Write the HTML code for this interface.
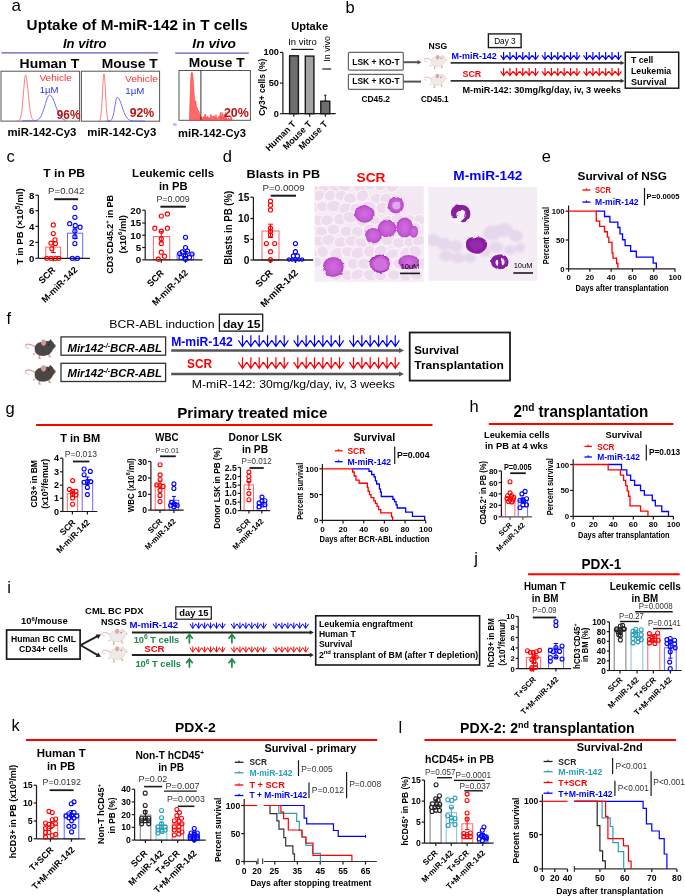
<!DOCTYPE html>
<html><head><meta charset="utf-8"><style>
html,body{margin:0;padding:0;background:#fff;}
body{width:685px;height:896px;overflow:hidden;}
svg{display:block;will-change:transform;font-family:"Liberation Sans",sans-serif;}
</style></head><body>
<svg width="685" height="896" viewBox="0 0 685 896">
<text x="11.50" y="10.50" font-size="17" >a</text>
<text x="26.60" y="30.30" font-size="14.2" font-weight="bold" textLength="221.30" lengthAdjust="spacingAndGlyphs" >Uptake of M-miR-142 in T cells</text>
<text x="63.00" y="47.60" font-size="13.2" font-weight="bold" font-style="italic" textLength="43.50" lengthAdjust="spacingAndGlyphs" >In vitro</text>
<text x="192.30" y="47.60" font-size="13.2" font-weight="bold" font-style="italic" textLength="43.70" lengthAdjust="spacingAndGlyphs" >In vivo</text>
<line x1="1.40" y1="52.80" x2="158.00" y2="52.80" stroke="#5a5ab4" stroke-width="1.3"/>
<line x1="175.20" y1="53.20" x2="248.80" y2="53.20" stroke="#5a5ab4" stroke-width="1.3"/>
<text x="19.60" y="68.30" font-size="13" font-weight="bold" textLength="59.60" lengthAdjust="spacingAndGlyphs" >Human T</text>
<text x="101.70" y="67.70" font-size="13" font-weight="bold" textLength="56.10" lengthAdjust="spacingAndGlyphs" >Mouse T</text>
<text x="188.80" y="67.10" font-size="13" font-weight="bold" textLength="55.80" lengthAdjust="spacingAndGlyphs" >Mouse T</text>
<rect x="1.00" y="71.20" width="78.60" height="49.90" stroke="#555" stroke-width="1" fill="none" />
<rect x="81.40" y="71.20" width="78.20" height="50.00" stroke="#555" stroke-width="1" fill="none" />
<rect x="179.00" y="70.50" width="71.40" height="49.80" stroke="#555" stroke-width="1" fill="none" />
<path d="M17.00,120.78 L17.32,120.77 L17.63,120.75 L17.95,120.71 L18.27,120.66 L18.58,120.57 L18.90,120.43 L19.22,120.22 L19.53,119.92 L19.85,119.48 L20.17,118.87 L20.48,118.04 L20.80,116.94 L21.12,115.51 L21.43,113.71 L21.75,111.49 L22.07,108.84 L22.38,105.75 L22.70,102.28 L23.02,98.50 L23.33,94.51 L23.65,90.46 L23.97,86.54 L24.28,82.93 L24.60,79.83 L24.92,77.43 L25.23,75.85 L25.55,75.21 L25.87,75.43 L26.18,76.30 L26.50,77.77 L26.82,79.79 L27.13,82.28 L27.45,85.13 L27.77,88.24 L28.08,91.50 L28.40,94.82 L28.72,98.08 L29.03,101.23 L29.35,104.17 L29.67,106.88 L29.98,109.31 L30.30,111.45 L30.62,113.30 L30.93,114.87 L31.25,116.18 L31.57,117.25 L31.88,118.12 L32.20,118.80 L32.52,119.33 L32.83,119.73 L33.15,120.04 L33.47,120.26 L33.78,120.43 L34.10,120.54 L34.42,120.63 L34.73,120.69 L35.05,120.72 L35.37,120.75 L35.68,120.77 L36.00,120.78" stroke="#ff5a5a" stroke-width="0.8" fill="none" />
<path d="M22.00,120.80 L22.73,120.80 L23.47,120.80 L24.20,120.80 L24.93,120.80 L25.67,120.80 L26.40,120.80 L27.13,120.80 L27.87,120.80 L28.60,120.80 L29.33,120.80 L30.07,120.80 L30.80,120.79 L31.53,120.79 L32.27,120.77 L33.00,120.76 L33.73,120.72 L34.47,120.67 L35.20,120.59 L35.93,120.46 L36.67,120.27 L37.40,119.98 L38.13,119.58 L38.87,119.03 L39.60,118.29 L40.33,117.32 L41.07,116.09 L41.80,114.59 L42.53,112.81 L43.27,110.77 L44.00,108.51 L44.73,106.11 L45.47,103.66 L46.20,101.29 L46.93,99.14 L47.67,97.32 L48.40,95.98 L49.13,95.19 L49.87,95.01 L50.60,95.32 L51.33,96.03 L52.07,97.12 L52.80,98.52 L53.53,100.19 L54.27,102.04 L55.00,104.00 L55.73,106.01 L56.47,107.98 L57.20,109.88 L57.93,111.64 L58.67,113.25 L59.40,114.67 L60.13,115.91 L60.87,116.96 L61.60,117.84 L62.33,118.55 L63.07,119.12 L63.80,119.56 L64.53,119.91 L65.27,120.16 L66.00,120.36" stroke="#4a4aff" stroke-width="0.8" fill="none" />
<text x="39.40" y="80.60" font-size="9.2" fill="#ff3030" textLength="32.60" lengthAdjust="spacingAndGlyphs" >Vehicle</text>
<text x="39.70" y="93.10" font-size="9.2" fill="#3030ff" textLength="18.80" lengthAdjust="spacingAndGlyphs" >1µM</text>
<text x="56.80" y="118.70" font-size="12" font-weight="bold" fill="#b81414" textLength="23.60" lengthAdjust="spacingAndGlyphs" >96%</text>
<path d="M98.50,120.94 L98.69,120.91 L98.88,120.86 L99.08,120.78 L99.27,120.68 L99.46,120.52 L99.65,120.30 L99.84,119.99 L100.03,119.57 L100.22,119.01 L100.42,118.28 L100.61,117.34 L100.80,116.15 L100.99,114.68 L101.18,112.90 L101.38,110.79 L101.57,108.34 L101.76,105.55 L101.95,102.45 L102.14,99.09 L102.33,95.54 L102.53,91.89 L102.72,88.27 L102.91,84.78 L103.10,81.58 L103.29,78.78 L103.48,76.52 L103.67,74.89 L103.87,73.99 L104.06,73.84 L104.25,74.45 L104.44,75.80 L104.63,77.83 L104.83,80.43 L105.02,83.49 L105.21,86.88 L105.40,90.47 L105.59,94.12 L105.78,97.72 L105.97,101.16 L106.17,104.37 L106.36,107.29 L106.55,109.87 L106.74,112.12 L106.93,114.03 L107.12,115.61 L107.32,116.90 L107.51,117.94 L107.70,118.75 L107.89,119.37 L108.08,119.84 L108.28,120.19 L108.47,120.44 L108.66,120.62 L108.85,120.75 L109.04,120.83 L109.23,120.89 L109.42,120.93 L109.62,120.96 L109.81,120.97 L110.00,120.98" stroke="#ff5a5a" stroke-width="0.8" fill="none" />
<path d="M106.00,121.00 L106.65,121.00 L107.30,121.00 L107.95,120.99 L108.60,120.97 L109.25,120.93 L109.90,120.82 L110.55,120.58 L111.20,120.11 L111.85,119.26 L112.50,117.85 L113.15,115.70 L113.80,112.75 L114.45,109.12 L115.10,105.16 L115.75,101.44 L116.40,98.65 L117.05,97.35 L117.70,97.43 L118.35,97.95 L119.00,98.87 L119.65,100.13 L120.30,101.66 L120.95,103.40 L121.60,105.27 L122.25,107.19 L122.90,109.09 L123.55,110.91 L124.20,112.60 L124.85,114.13 L125.50,115.49 L126.15,116.65 L126.80,117.63 L127.45,118.44 L128.10,119.08 L128.75,119.59 L129.40,119.99 L130.05,120.28 L130.70,120.50 L131.35,120.66 L132.00,120.77 L132.65,120.85 L133.30,120.90 L133.95,120.94 L134.60,120.96 L135.25,120.98 L135.90,120.99 L136.55,120.99 L137.20,121.00 L137.85,121.00 L138.50,121.00 L139.15,121.00 L139.80,121.00 L140.45,121.00 L141.10,121.00 L141.75,121.00 L142.40,121.00 L143.05,121.00 L143.70,121.00 L144.35,121.00 L145.00,121.00" stroke="#4a4aff" stroke-width="0.8" fill="none" />
<text x="124.90" y="82.30" font-size="9.2" fill="#ff3030" textLength="33.10" lengthAdjust="spacingAndGlyphs" >Vehicle</text>
<text x="125.30" y="94.40" font-size="9.2" fill="#3030ff" textLength="19.10" lengthAdjust="spacingAndGlyphs" >1µM</text>
<text x="129.70" y="116.80" font-size="12" font-weight="bold" fill="#b81414" textLength="24.50" lengthAdjust="spacingAndGlyphs" >92%</text>
<path d="M189.40,120.20 L190.00,100.00 L190.60,82.00 L191.20,73.00 L191.80,72.30 L192.40,72.80 L193.00,77.00 L193.50,84.00 L194.00,92.00 L194.50,98.00 L195.20,102.00 L195.80,101.00 L196.40,106.00 L197.20,108.00 L198.00,111.00 L198.80,110.50 L199.50,113.50 L200.40,115.50 L200.90,118.00 L201.00,117.52 L201.75,117.28 L202.50,119.44 L203.25,116.35 L204.00,118.76 L204.75,114.32 L205.50,114.29 L206.25,119.10 L207.00,116.23 L207.75,116.73 L208.50,119.44 L209.25,117.34 L210.00,119.58 L210.75,114.31 L211.50,116.18 L212.25,116.02 L213.00,116.50 L213.75,115.96 L214.50,115.81 L215.25,118.83 L216.00,114.46 L216.75,118.50 L217.50,118.16 L218.25,117.36 L219.00,116.08 L219.75,115.98 L220.50,112.24 L221.25,119.05 L222.00,112.34 L222.75,113.92 L223.50,118.86 L224.25,113.91 L225.00,119.45 L225.75,112.24 L226.50,118.35 L227.25,119.65 L228.00,118.41 L228.75,118.11 L229.50,119.86 L230.25,119.29 L231.00,116.24 L231.75,117.95 L232.00,120.20 Z" fill="#ff6a6a" stroke="#ff2a2a" stroke-width="0.5"/>
<line x1="200.90" y1="70.50" x2="200.90" y2="120.30" stroke="#333" stroke-width="1.0"/>
<text x="223.90" y="117.00" font-size="12" font-weight="bold" fill="#b81414" textLength="24.90" lengthAdjust="spacingAndGlyphs" >20%</text>
<text x="173.30" y="125.50" font-size="4" fill="#5050ff" >M</text>
<text x="7.40" y="136.10" font-size="10.4" font-weight="bold" textLength="69.00" lengthAdjust="spacingAndGlyphs" >miR-142-Cy3</text>
<text x="87.30" y="136.10" font-size="10.4" font-weight="bold" textLength="69.00" lengthAdjust="spacingAndGlyphs" >miR-142-Cy3</text>
<text x="178.10" y="136.70" font-size="10.4" font-weight="bold" textLength="67.90" lengthAdjust="spacingAndGlyphs" >miR-142-Cy3</text>
<text x="291.20" y="30.40" font-size="10" font-weight="bold" textLength="36.90" lengthAdjust="spacingAndGlyphs" >Uptake</text>
<text x="288.20" y="45.20" font-size="8.2" textLength="28.60" lengthAdjust="spacingAndGlyphs" >In vitro</text>
<line x1="291.20" y1="49.40" x2="313.50" y2="49.40" stroke="#1a1a1a" stroke-width="1.2"/>
<text transform="translate(330.20,48.90) rotate(-90)" font-size="8.2" text-anchor="middle" textLength="25.60" lengthAdjust="spacingAndGlyphs">In vivo</text>
<line x1="322.30" y1="69.00" x2="331.20" y2="69.00" stroke="#1a1a1a" stroke-width="1.2"/>
<rect x="289.60" y="55.80" width="8.80" height="57.90" stroke="#1a1a1a" stroke-width="1.4" fill="#6e6e6e" />
<rect x="305.30" y="56.10" width="8.60" height="57.60" stroke="#1a1a1a" stroke-width="1.4" fill="#a4a4a4" />
<rect x="320.80" y="101.20" width="9.00" height="12.50" stroke="#1a1a1a" stroke-width="1.4" fill="#6e6e6e" />
<line x1="325.30" y1="95.20" x2="325.30" y2="101.20" stroke="#1a1a1a" stroke-width="1"/>
<line x1="324.10" y1="95.20" x2="326.50" y2="95.20" stroke="#1a1a1a" stroke-width="1"/>
<line x1="324.10" y1="101.20" x2="326.50" y2="101.20" stroke="#1a1a1a" stroke-width="1"/>
<line x1="293.80" y1="55.20" x2="293.80" y2="55.80" stroke="#1a1a1a" stroke-width="1"/>
<line x1="282.90" y1="52.40" x2="282.90" y2="113.70" stroke="#1a1a1a" stroke-width="1.2"/>
<line x1="279.90" y1="52.40" x2="282.90" y2="52.40" stroke="#1a1a1a" stroke-width="1.2"/>
<text x="278.90" y="55.40" font-size="9.2" font-weight="bold" text-anchor="end" >100</text>
<line x1="279.90" y1="83.10" x2="282.90" y2="83.10" stroke="#1a1a1a" stroke-width="1.2"/>
<text x="278.90" y="86.10" font-size="9.2" font-weight="bold" text-anchor="end" >50</text>
<line x1="279.90" y1="113.70" x2="282.90" y2="113.70" stroke="#1a1a1a" stroke-width="1.2"/>
<text x="278.90" y="116.70" font-size="9.2" font-weight="bold" text-anchor="end" >0</text>
<line x1="282.90" y1="113.70" x2="335.70" y2="113.70" stroke="#1a1a1a" stroke-width="1.2"/>
<line x1="293.80" y1="113.70" x2="293.80" y2="116.70" stroke="#1a1a1a" stroke-width="1.2"/>
<line x1="309.70" y1="113.70" x2="309.70" y2="116.70" stroke="#1a1a1a" stroke-width="1.2"/>
<line x1="325.30" y1="113.70" x2="325.30" y2="116.70" stroke="#1a1a1a" stroke-width="1.2"/>
<text transform="translate(264.70,87.20) rotate(-90)" font-size="9.2" font-weight="bold" text-anchor="middle" textLength="57.30" lengthAdjust="spacingAndGlyphs">Cy3+ cells (%)</text>
<text transform="translate(296.50,124.50) rotate(-45)" font-size="9.0" font-weight="bold" text-anchor="end">Human T</text>
<text transform="translate(312.30,124.50) rotate(-45)" font-size="9.0" font-weight="bold" text-anchor="end">Mouse T</text>
<text transform="translate(328.10,124.50) rotate(-45)" font-size="9.0" font-weight="bold" text-anchor="end">Mouse T</text>
<text x="345.40" y="12.60" font-size="16.5" >b</text>
<rect x="348.40" y="52.40" width="54.90" height="17.70" stroke="#666" stroke-width="1.2" fill="none" rx="1"/>
<rect x="348.40" y="74.30" width="54.90" height="15.10" stroke="#666" stroke-width="1.2" fill="none" rx="1"/>
<text x="352.30" y="65.20" font-size="8.6" font-weight="bold" textLength="47.30" lengthAdjust="spacingAndGlyphs" >LSK + KO-T</text>
<text x="352.30" y="84.40" font-size="8.6" font-weight="bold" textLength="47.30" lengthAdjust="spacingAndGlyphs" >LSK + KO-T</text>
<line x1="403.40" y1="62.20" x2="418.00" y2="62.20" stroke="#555" stroke-width="2.0"/>
<path d="M417.50,60.00 L421.50,62.20 L417.50,64.40 Z" fill="#555"/>
<line x1="403.40" y1="81.60" x2="421.00" y2="81.60" stroke="#555" stroke-width="2.0"/>
<g transform="translate(424.00,54.60) scale(0.73)"><path d="M0.3,6.6 C2,4 6,5.2 10.6,8" stroke="#e4a4a0" stroke-width="1.1" fill="none"/><path d="M0.3,6.6 C0.4,8.2 1.8,9.2 3.8,9.6" stroke="#e4a4a0" stroke-width="0.9" fill="none"/><path d="M14.6,15.6 L14.3,19.2 M23.8,14.6 L24.6,17.6 M9.6,14.4 L8.4,15.6" stroke="#e4a4a0" stroke-width="1.5" fill="none"/><path d="M13.4,19.4 L16,19.4 M23.6,17.8 L26.2,17.8" stroke="#e4a4a0" stroke-width="1.0" fill="none"/><path d="M10,9.5 C10,5 14,3 18.5,3.2 C21,2.2 24,2 26.5,3.2 C28.5,4.2 30.2,5.5 30.5,6.8 C30.2,8 28.8,9 27.6,10.6 C26.5,13.5 24.5,15.5 20.5,16.3 C16.5,17 11.5,16 10.3,12.5 Z" fill="#eeeae8" stroke="#d4c4bf" stroke-width="0.6"/><ellipse cx="18.6" cy="3.6" rx="2.5" ry="3.1" fill="#e4a4a0"/><path d="M23.8,4.2 L25.2,0.4 L28.2,3.6 Z" fill="#eeeae8" stroke="#d4c4bf" stroke-width="0.5"/><circle cx="23.4" cy="5.4" r="0.75" fill="#b03040"/><circle cx="30.3" cy="6.9" r="0.6" fill="#e4a4a0"/></g>
<g transform="translate(423.80,73.30) scale(0.73)"><path d="M0.3,6.6 C2,4 6,5.2 10.6,8" stroke="#e4a4a0" stroke-width="1.1" fill="none"/><path d="M0.3,6.6 C0.4,8.2 1.8,9.2 3.8,9.6" stroke="#e4a4a0" stroke-width="0.9" fill="none"/><path d="M14.6,15.6 L14.3,19.2 M23.8,14.6 L24.6,17.6 M9.6,14.4 L8.4,15.6" stroke="#e4a4a0" stroke-width="1.5" fill="none"/><path d="M13.4,19.4 L16,19.4 M23.6,17.8 L26.2,17.8" stroke="#e4a4a0" stroke-width="1.0" fill="none"/><path d="M10,9.5 C10,5 14,3 18.5,3.2 C21,2.2 24,2 26.5,3.2 C28.5,4.2 30.2,5.5 30.5,6.8 C30.2,8 28.8,9 27.6,10.6 C26.5,13.5 24.5,15.5 20.5,16.3 C16.5,17 11.5,16 10.3,12.5 Z" fill="#eeeae8" stroke="#d4c4bf" stroke-width="0.6"/><ellipse cx="18.6" cy="3.6" rx="2.5" ry="3.1" fill="#e4a4a0"/><path d="M23.8,4.2 L25.2,0.4 L28.2,3.6 Z" fill="#eeeae8" stroke="#d4c4bf" stroke-width="0.5"/><circle cx="23.4" cy="5.4" r="0.75" fill="#b03040"/><circle cx="30.3" cy="6.9" r="0.6" fill="#e4a4a0"/></g>
<text x="428.50" y="49.00" font-size="9" font-weight="bold" textLength="18.70" lengthAdjust="spacingAndGlyphs" >NSG</text>
<text x="361.40" y="101.60" font-size="8.8" font-weight="bold" textLength="28.50" lengthAdjust="spacingAndGlyphs" >CD45.2</text>
<text x="420.90" y="101.60" font-size="8.8" font-weight="bold" textLength="27.70" lengthAdjust="spacingAndGlyphs" >CD45.1</text>
<rect x="488.40" y="33.90" width="32.70" height="13.70" stroke="#1a1a1a" stroke-width="1.4" fill="none" />
<text x="494.20" y="43.50" font-size="9" textLength="21.40" lengthAdjust="spacingAndGlyphs" >Day 3</text>
<text x="451.60" y="59.40" font-size="9.4" font-weight="bold" fill="#0000ff" textLength="45.20" lengthAdjust="spacingAndGlyphs" >M-miR-142</text>
<text x="462.50" y="76.80" font-size="9.4" font-weight="bold" fill="#ff0000" textLength="18.80" lengthAdjust="spacingAndGlyphs" >SCR</text>
<line x1="450.60" y1="62.90" x2="621.00" y2="62.90" stroke="#333" stroke-width="1.9"/>
<path d="M620.50,60.70 L624.50,62.90 L620.50,65.10 Z" fill="#333"/>
<line x1="450.60" y1="80.90" x2="621.00" y2="80.90" stroke="#333" stroke-width="1.9"/>
<path d="M620.50,78.70 L624.50,80.90 L620.50,83.10 Z" fill="#333"/>
<path d="M503.60,52.00 L503.60,59.60 M500.60,55.40 L503.60,59.60 L506.60,55.40 M509.98,52.00 L509.98,59.60 M506.98,55.40 L509.98,59.60 L512.98,55.40 M516.36,52.00 L516.36,59.60 M513.36,55.40 L516.36,59.60 L519.36,55.40 M522.74,52.00 L522.74,59.60 M519.74,55.40 L522.74,59.60 L525.74,55.40 M529.12,52.00 L529.12,59.60 M526.12,55.40 L529.12,59.60 L532.12,55.40 M535.50,52.00 L535.50,59.60 M532.50,55.40 L535.50,59.60 L538.50,55.40 " stroke="#0000ff" stroke-width="1.15" fill="none" stroke-linejoin="miter"/>
<path d="M503.60,67.90 L503.60,75.60 M500.60,71.40 L503.60,75.60 L506.60,71.40 M509.98,67.90 L509.98,75.60 M506.98,71.40 L509.98,75.60 L512.98,71.40 M516.36,67.90 L516.36,75.60 M513.36,71.40 L516.36,75.60 L519.36,71.40 M522.74,67.90 L522.74,75.60 M519.74,71.40 L522.74,75.60 L525.74,71.40 M529.12,67.90 L529.12,75.60 M526.12,71.40 L529.12,75.60 L532.12,71.40 M535.50,67.90 L535.50,75.60 M532.50,71.40 L535.50,75.60 L538.50,71.40 " stroke="#ff0000" stroke-width="1.15" fill="none" stroke-linejoin="miter"/>
<path d="M545.00,52.00 L545.00,59.60 M542.00,55.40 L545.00,59.60 L548.00,55.40 M551.38,52.00 L551.38,59.60 M548.38,55.40 L551.38,59.60 L554.38,55.40 M557.76,52.00 L557.76,59.60 M554.76,55.40 L557.76,59.60 L560.76,55.40 M564.14,52.00 L564.14,59.60 M561.14,55.40 L564.14,59.60 L567.14,55.40 M570.52,52.00 L570.52,59.60 M567.52,55.40 L570.52,59.60 L573.52,55.40 M576.90,52.00 L576.90,59.60 M573.90,55.40 L576.90,59.60 L579.90,55.40 " stroke="#0000ff" stroke-width="1.15" fill="none" stroke-linejoin="miter"/>
<path d="M545.00,67.90 L545.00,75.60 M542.00,71.40 L545.00,75.60 L548.00,71.40 M551.38,67.90 L551.38,75.60 M548.38,71.40 L551.38,75.60 L554.38,71.40 M557.76,67.90 L557.76,75.60 M554.76,71.40 L557.76,75.60 L560.76,71.40 M564.14,67.90 L564.14,75.60 M561.14,71.40 L564.14,75.60 L567.14,71.40 M570.52,67.90 L570.52,75.60 M567.52,71.40 L570.52,75.60 L573.52,71.40 M576.90,67.90 L576.90,75.60 M573.90,71.40 L576.90,75.60 L579.90,71.40 " stroke="#ff0000" stroke-width="1.15" fill="none" stroke-linejoin="miter"/>
<path d="M586.50,52.00 L586.50,59.60 M583.50,55.40 L586.50,59.60 L589.50,55.40 M592.88,52.00 L592.88,59.60 M589.88,55.40 L592.88,59.60 L595.88,55.40 M599.26,52.00 L599.26,59.60 M596.26,55.40 L599.26,59.60 L602.26,55.40 M605.64,52.00 L605.64,59.60 M602.64,55.40 L605.64,59.60 L608.64,55.40 M612.02,52.00 L612.02,59.60 M609.02,55.40 L612.02,59.60 L615.02,55.40 M618.40,52.00 L618.40,59.60 M615.40,55.40 L618.40,59.60 L621.40,55.40 " stroke="#0000ff" stroke-width="1.15" fill="none" stroke-linejoin="miter"/>
<path d="M586.50,67.90 L586.50,75.60 M583.50,71.40 L586.50,75.60 L589.50,71.40 M592.88,67.90 L592.88,75.60 M589.88,71.40 L592.88,75.60 L595.88,71.40 M599.26,67.90 L599.26,75.60 M596.26,71.40 L599.26,75.60 L602.26,71.40 M605.64,67.90 L605.64,75.60 M602.64,71.40 L605.64,75.60 L608.64,71.40 M612.02,67.90 L612.02,75.60 M609.02,71.40 L612.02,75.60 L615.02,71.40 M618.40,67.90 L618.40,75.60 M615.40,71.40 L618.40,75.60 L621.40,71.40 " stroke="#ff0000" stroke-width="1.15" fill="none" stroke-linejoin="miter"/>
<text x="462.50" y="93.20" font-size="9.2" font-weight="bold" textLength="158.60" lengthAdjust="spacingAndGlyphs" >M-miR-142: 30mg/kg/day,  iv, 3 weeks</text>
<rect x="625.30" y="52.20" width="53.40" height="36.00" stroke="#1a1a1a" stroke-width="1.5" fill="none" />
<text x="631.00" y="63.40" font-size="9.8" font-weight="bold" textLength="22.30" lengthAdjust="spacingAndGlyphs" >T cell</text>
<text x="631.00" y="74.00" font-size="9.8" font-weight="bold" textLength="40.20" lengthAdjust="spacingAndGlyphs" >Leukemia</text>
<text x="631.00" y="85.00" font-size="9.8" font-weight="bold" textLength="35.60" lengthAdjust="spacingAndGlyphs" >Survival</text>
<text x="6.50" y="162.30" font-size="16.5" >c</text>
<text x="43.30" y="177.00" font-size="11.3" font-weight="bold" textLength="41.80" lengthAdjust="spacingAndGlyphs" >T in PB</text>
<text x="48.10" y="194.00" font-size="9.2" fill="#333" textLength="36.20" lengthAdjust="spacingAndGlyphs" >P=0.042</text>
<line x1="54.20" y1="199.20" x2="78.20" y2="199.20" stroke="#1a1a1a" stroke-width="2"/>
<line x1="38.40" y1="195.20" x2="38.40" y2="258.30" stroke="#1a1a1a" stroke-width="1.2"/>
<line x1="35.40" y1="195.20" x2="38.40" y2="195.20" stroke="#1a1a1a" stroke-width="1.2"/>
<text x="34.40" y="198.50" font-size="9.6" font-weight="bold" text-anchor="end" >8</text>
<line x1="35.40" y1="210.70" x2="38.40" y2="210.70" stroke="#1a1a1a" stroke-width="1.2"/>
<text x="34.40" y="214.00" font-size="9.6" font-weight="bold" text-anchor="end" >6</text>
<line x1="35.40" y1="226.30" x2="38.40" y2="226.30" stroke="#1a1a1a" stroke-width="1.2"/>
<text x="34.40" y="229.60" font-size="9.6" font-weight="bold" text-anchor="end" >4</text>
<line x1="35.40" y1="242.40" x2="38.40" y2="242.40" stroke="#1a1a1a" stroke-width="1.2"/>
<text x="34.40" y="245.70" font-size="9.6" font-weight="bold" text-anchor="end" >2</text>
<line x1="35.40" y1="258.30" x2="38.40" y2="258.30" stroke="#1a1a1a" stroke-width="1.2"/>
<text x="34.40" y="261.60" font-size="9.6" font-weight="bold" text-anchor="end" >0</text>
<rect x="45.80" y="247.10" width="14.80" height="11.20" stroke="#ff0000" stroke-width="1.0" fill="none" stroke-opacity="0.6"/>
<rect x="67.50" y="233.20" width="15.20" height="25.10" stroke="#0000ff" stroke-width="1.0" fill="none" stroke-opacity="0.6"/>
<line x1="38.40" y1="258.30" x2="90.00" y2="258.30" stroke="#1a1a1a" stroke-width="1.2"/>
<line x1="53.30" y1="258.30" x2="53.30" y2="261.30" stroke="#1a1a1a" stroke-width="1.2"/>
<line x1="75.10" y1="258.30" x2="75.10" y2="261.30" stroke="#1a1a1a" stroke-width="1.2"/>
<line x1="53.30" y1="241.50" x2="53.30" y2="252.50" stroke="#ff0000" stroke-width="1"/>
<line x1="50.80" y1="241.50" x2="55.80" y2="241.50" stroke="#ff0000" stroke-width="1"/>
<line x1="50.80" y1="252.50" x2="55.80" y2="252.50" stroke="#ff0000" stroke-width="1"/>
<line x1="75.10" y1="228.00" x2="75.10" y2="238.50" stroke="#0000ff" stroke-width="1"/>
<line x1="72.60" y1="228.00" x2="77.60" y2="228.00" stroke="#0000ff" stroke-width="1"/>
<line x1="72.60" y1="238.50" x2="77.60" y2="238.50" stroke="#0000ff" stroke-width="1"/>
<circle cx="53.30" cy="224.90" r="2.05" stroke="#ff0000" stroke-width="1.1" fill="none"/>
<circle cx="53.30" cy="233.60" r="2.05" stroke="#ff0000" stroke-width="1.1" fill="none"/>
<circle cx="55.00" cy="239.80" r="2.05" stroke="#ff0000" stroke-width="1.1" fill="none"/>
<circle cx="51.00" cy="243.10" r="2.05" stroke="#ff0000" stroke-width="1.1" fill="none"/>
<circle cx="55.50" cy="243.50" r="2.05" stroke="#ff0000" stroke-width="1.1" fill="none"/>
<circle cx="51.90" cy="248.80" r="2.05" stroke="#ff0000" stroke-width="1.1" fill="none"/>
<circle cx="46.70" cy="258.30" r="2.05" stroke="#ff0000" stroke-width="1.1" fill="none"/>
<circle cx="51.00" cy="258.30" r="2.05" stroke="#ff0000" stroke-width="1.1" fill="none"/>
<circle cx="55.40" cy="258.30" r="2.05" stroke="#ff0000" stroke-width="1.1" fill="none"/>
<circle cx="58.80" cy="258.30" r="2.05" stroke="#ff0000" stroke-width="1.1" fill="none"/>
<circle cx="74.90" cy="207.60" r="2.05" stroke="#0000ff" stroke-width="1.1" fill="none"/>
<circle cx="74.90" cy="217.30" r="2.05" stroke="#0000ff" stroke-width="1.1" fill="none"/>
<circle cx="69.70" cy="223.70" r="2.05" stroke="#0000ff" stroke-width="1.1" fill="none"/>
<circle cx="75.30" cy="225.40" r="2.05" stroke="#0000ff" stroke-width="1.1" fill="none"/>
<circle cx="80.10" cy="227.20" r="2.05" stroke="#0000ff" stroke-width="1.1" fill="none"/>
<circle cx="74.90" cy="231.00" r="2.05" stroke="#0000ff" stroke-width="1.1" fill="none"/>
<circle cx="74.90" cy="236.70" r="2.05" stroke="#0000ff" stroke-width="1.1" fill="none"/>
<circle cx="74.90" cy="243.60" r="2.05" stroke="#0000ff" stroke-width="1.1" fill="none"/>
<circle cx="72.30" cy="258.30" r="2.05" stroke="#0000ff" stroke-width="1.1" fill="none"/>
<circle cx="77.50" cy="258.30" r="2.05" stroke="#0000ff" stroke-width="1.1" fill="none"/>
<text transform="translate(23.00,226.40) rotate(-90)" font-size="9.6" font-weight="bold" text-anchor="middle" textLength="76.00" lengthAdjust="spacingAndGlyphs">T in PB (×10<tspan font-size="6.5" dy="-3.5">5</tspan><tspan dy="3.5">/ml)</tspan></text>
<text transform="translate(56.00,270.50) rotate(-45)" font-size="9.2" font-weight="bold" text-anchor="end">SCR</text>
<text transform="translate(78.00,270.50) rotate(-45)" font-size="9.2" font-weight="bold" text-anchor="end">M-miR-142</text>
<text x="132.10" y="176.50" font-size="10.8" font-weight="bold" textLength="82.10" lengthAdjust="spacingAndGlyphs" >Leukemic cells</text>
<text x="159.00" y="189.70" font-size="10.8" font-weight="bold" textLength="28.60" lengthAdjust="spacingAndGlyphs" >in PB</text>
<text x="156.40" y="201.90" font-size="9.2" fill="#333" textLength="33.30" lengthAdjust="spacingAndGlyphs" >P=0.009</text>
<line x1="160.40" y1="206.70" x2="185.80" y2="206.70" stroke="#1a1a1a" stroke-width="2"/>
<line x1="145.20" y1="210.20" x2="145.20" y2="259.80" stroke="#1a1a1a" stroke-width="1.2"/>
<line x1="142.20" y1="210.20" x2="145.20" y2="210.20" stroke="#1a1a1a" stroke-width="1.2"/>
<text x="141.20" y="213.60" font-size="9.8" font-weight="bold" text-anchor="end" >20</text>
<line x1="142.20" y1="223.00" x2="145.20" y2="223.00" stroke="#1a1a1a" stroke-width="1.2"/>
<text x="141.20" y="226.40" font-size="9.8" font-weight="bold" text-anchor="end" >15</text>
<line x1="142.20" y1="235.20" x2="145.20" y2="235.20" stroke="#1a1a1a" stroke-width="1.2"/>
<text x="141.20" y="238.60" font-size="9.8" font-weight="bold" text-anchor="end" >10</text>
<line x1="142.20" y1="247.50" x2="145.20" y2="247.50" stroke="#1a1a1a" stroke-width="1.2"/>
<text x="141.20" y="250.90" font-size="9.8" font-weight="bold" text-anchor="end" >5</text>
<line x1="142.20" y1="259.80" x2="145.20" y2="259.80" stroke="#1a1a1a" stroke-width="1.2"/>
<text x="141.20" y="263.20" font-size="9.8" font-weight="bold" text-anchor="end" >0</text>
<rect x="153.40" y="236.50" width="16.30" height="23.30" stroke="#ff0000" stroke-width="1.0" fill="none" stroke-opacity="0.6"/>
<rect x="177.10" y="254.00" width="16.60" height="5.80" stroke="#0000ff" stroke-width="1.0" fill="none" stroke-opacity="0.6"/>
<line x1="145.20" y1="259.80" x2="202.50" y2="259.80" stroke="#1a1a1a" stroke-width="1.2"/>
<line x1="161.30" y1="259.80" x2="161.30" y2="262.80" stroke="#1a1a1a" stroke-width="1.2"/>
<line x1="185.50" y1="259.80" x2="185.50" y2="262.80" stroke="#1a1a1a" stroke-width="1.2"/>
<line x1="161.30" y1="231.60" x2="161.30" y2="242.00" stroke="#ff0000" stroke-width="1"/>
<line x1="158.80" y1="231.60" x2="163.80" y2="231.60" stroke="#ff0000" stroke-width="1"/>
<line x1="158.80" y1="242.00" x2="163.80" y2="242.00" stroke="#ff0000" stroke-width="1"/>
<line x1="185.50" y1="251.50" x2="185.50" y2="256.50" stroke="#0000ff" stroke-width="1"/>
<line x1="183.00" y1="251.50" x2="188.00" y2="251.50" stroke="#0000ff" stroke-width="1"/>
<line x1="183.00" y1="256.50" x2="188.00" y2="256.50" stroke="#0000ff" stroke-width="1"/>
<circle cx="161.30" cy="216.00" r="2.05" stroke="#ff0000" stroke-width="1.1" fill="none"/>
<circle cx="167.40" cy="213.90" r="2.05" stroke="#ff0000" stroke-width="1.1" fill="none"/>
<circle cx="154.80" cy="228.20" r="2.05" stroke="#ff0000" stroke-width="1.1" fill="none"/>
<circle cx="167.40" cy="228.20" r="2.05" stroke="#ff0000" stroke-width="1.1" fill="none"/>
<circle cx="161.30" cy="231.20" r="2.05" stroke="#ff0000" stroke-width="1.1" fill="none"/>
<circle cx="161.30" cy="238.70" r="2.05" stroke="#ff0000" stroke-width="1.1" fill="none"/>
<circle cx="161.30" cy="243.50" r="2.05" stroke="#ff0000" stroke-width="1.1" fill="none"/>
<circle cx="161.30" cy="252.20" r="2.05" stroke="#ff0000" stroke-width="1.1" fill="none"/>
<circle cx="164.50" cy="256.20" r="2.05" stroke="#ff0000" stroke-width="1.1" fill="none"/>
<circle cx="158.30" cy="259.20" r="2.05" stroke="#ff0000" stroke-width="1.1" fill="none"/>
<circle cx="185.50" cy="237.30" r="2.05" stroke="#0000ff" stroke-width="1.1" fill="none"/>
<circle cx="185.50" cy="247.50" r="2.05" stroke="#0000ff" stroke-width="1.1" fill="none"/>
<circle cx="179.70" cy="253.60" r="2.05" stroke="#0000ff" stroke-width="1.1" fill="none"/>
<circle cx="182.30" cy="251.90" r="2.05" stroke="#0000ff" stroke-width="1.1" fill="none"/>
<circle cx="187.60" cy="251.00" r="2.05" stroke="#0000ff" stroke-width="1.1" fill="none"/>
<circle cx="192.00" cy="254.00" r="2.05" stroke="#0000ff" stroke-width="1.1" fill="none"/>
<circle cx="185.50" cy="255.70" r="2.05" stroke="#0000ff" stroke-width="1.1" fill="none"/>
<circle cx="185.50" cy="259.20" r="2.05" stroke="#0000ff" stroke-width="1.1" fill="none"/>
<circle cx="181.00" cy="257.50" r="2.05" stroke="#0000ff" stroke-width="1.1" fill="none"/>
<circle cx="189.50" cy="257.50" r="2.05" stroke="#0000ff" stroke-width="1.1" fill="none"/>
<text transform="translate(112.50,234.40) rotate(-90)" font-size="9.2" font-weight="bold" text-anchor="middle" textLength="78.80" lengthAdjust="spacingAndGlyphs">CD3<tspan font-size="6" dy="-3.5">-</tspan><tspan dy="3.5">CD45.2</tspan><tspan font-size="6" dy="-3.5">+</tspan><tspan dy="3.5"> in PB</tspan></text>
<text transform="translate(125.50,234.30) rotate(-90)" font-size="9.2" font-weight="bold" text-anchor="middle" textLength="38.60" lengthAdjust="spacingAndGlyphs">(x10<tspan font-size="6" dy="-3.5">6</tspan><tspan dy="3.5">/ml)</tspan></text>
<text transform="translate(164.50,273.50) rotate(-45)" font-size="9.2" font-weight="bold" text-anchor="end">SCR</text>
<text transform="translate(188.50,273.50) rotate(-45)" font-size="9.2" font-weight="bold" text-anchor="end">M-miR-142</text>
<text x="222.80" y="161.80" font-size="16.5" >d</text>
<text x="246.60" y="178.40" font-size="11.3" font-weight="bold" textLength="73.40" lengthAdjust="spacingAndGlyphs" >Blasts in PB</text>
<text x="262.60" y="190.80" font-size="9.2" fill="#333" textLength="42.00" lengthAdjust="spacingAndGlyphs" >P=0.0009</text>
<line x1="270.70" y1="195.70" x2="296.00" y2="195.70" stroke="#1a1a1a" stroke-width="2"/>
<line x1="253.40" y1="197.20" x2="253.40" y2="260.00" stroke="#1a1a1a" stroke-width="1.2"/>
<line x1="250.40" y1="197.20" x2="253.40" y2="197.20" stroke="#1a1a1a" stroke-width="1.2"/>
<text x="249.40" y="200.70" font-size="10.2" font-weight="bold" text-anchor="end" >15</text>
<line x1="250.40" y1="218.50" x2="253.40" y2="218.50" stroke="#1a1a1a" stroke-width="1.2"/>
<text x="249.40" y="222.00" font-size="10.2" font-weight="bold" text-anchor="end" >10</text>
<line x1="250.40" y1="239.30" x2="253.40" y2="239.30" stroke="#1a1a1a" stroke-width="1.2"/>
<text x="249.40" y="242.80" font-size="10.2" font-weight="bold" text-anchor="end" >5</text>
<line x1="250.40" y1="260.00" x2="253.40" y2="260.00" stroke="#1a1a1a" stroke-width="1.2"/>
<text x="249.40" y="263.50" font-size="10.2" font-weight="bold" text-anchor="end" >0</text>
<rect x="262.00" y="231.00" width="17.00" height="29.00" stroke="#ff0000" stroke-width="1.0" fill="none" stroke-opacity="0.6"/>
<rect x="287.30" y="258.30" width="16.20" height="1.70" stroke="#0000ff" stroke-width="1.0" fill="none" stroke-opacity="0.6"/>
<line x1="253.40" y1="260.00" x2="313.20" y2="260.00" stroke="#1a1a1a" stroke-width="1.5"/>
<line x1="270.50" y1="260.00" x2="270.50" y2="263.00" stroke="#1a1a1a" stroke-width="1.5"/>
<line x1="295.40" y1="260.00" x2="295.40" y2="263.00" stroke="#1a1a1a" stroke-width="1.5"/>
<line x1="270.50" y1="224.20" x2="270.50" y2="237.50" stroke="#ff0000" stroke-width="1"/>
<line x1="268.00" y1="224.20" x2="273.00" y2="224.20" stroke="#ff0000" stroke-width="1"/>
<line x1="268.00" y1="237.50" x2="273.00" y2="237.50" stroke="#ff0000" stroke-width="1"/>
<circle cx="270.50" cy="201.20" r="2.05" stroke="#ff0000" stroke-width="1.1" fill="none"/>
<circle cx="270.50" cy="205.20" r="2.05" stroke="#ff0000" stroke-width="1.1" fill="none"/>
<circle cx="270.50" cy="209.90" r="2.05" stroke="#ff0000" stroke-width="1.1" fill="none"/>
<circle cx="270.50" cy="228.00" r="2.05" stroke="#ff0000" stroke-width="1.1" fill="none"/>
<circle cx="270.50" cy="231.50" r="2.05" stroke="#ff0000" stroke-width="1.1" fill="none"/>
<circle cx="270.50" cy="235.00" r="2.05" stroke="#ff0000" stroke-width="1.1" fill="none"/>
<circle cx="266.40" cy="243.60" r="2.05" stroke="#ff0000" stroke-width="1.1" fill="none"/>
<circle cx="274.70" cy="243.60" r="2.05" stroke="#ff0000" stroke-width="1.1" fill="none"/>
<circle cx="270.50" cy="251.70" r="2.05" stroke="#ff0000" stroke-width="1.1" fill="none"/>
<circle cx="270.50" cy="259.70" r="2.05" stroke="#ff0000" stroke-width="1.1" fill="none"/>
<circle cx="295.40" cy="243.60" r="2.05" stroke="#0000ff" stroke-width="1.1" fill="none"/>
<circle cx="295.40" cy="251.70" r="2.05" stroke="#0000ff" stroke-width="1.1" fill="none"/>
<circle cx="293.40" cy="255.90" r="2.05" stroke="#0000ff" stroke-width="1.1" fill="none"/>
<circle cx="297.40" cy="255.90" r="2.05" stroke="#0000ff" stroke-width="1.1" fill="none"/>
<circle cx="289.00" cy="259.60" r="1.75" stroke="#0000ff" stroke-width="1.0" fill="none"/>
<circle cx="292.30" cy="259.60" r="1.75" stroke="#0000ff" stroke-width="1.0" fill="none"/>
<circle cx="295.60" cy="259.60" r="1.75" stroke="#0000ff" stroke-width="1.0" fill="none"/>
<circle cx="298.90" cy="259.60" r="1.75" stroke="#0000ff" stroke-width="1.0" fill="none"/>
<circle cx="302.20" cy="259.60" r="1.75" stroke="#0000ff" stroke-width="1.0" fill="none"/>
<text transform="translate(231.80,227.70) rotate(-90)" font-size="10" font-weight="bold" text-anchor="middle" textLength="73.90" lengthAdjust="spacingAndGlyphs">Blasts in PB (%)</text>
<text transform="translate(273.50,273.50) rotate(-45)" font-size="9.6" font-weight="bold" text-anchor="end">SCR</text>
<text transform="translate(298.50,273.50) rotate(-45)" font-size="9.6" font-weight="bold" text-anchor="end">M-miR-142</text>
<text x="356.60" y="182.30" font-size="13.2" font-weight="bold" fill="#ff0000" textLength="28.90" lengthAdjust="spacingAndGlyphs" >SCR</text>
<text x="453.30" y="180.20" font-size="13.2" font-weight="bold" fill="#0000ff" textLength="69.10" lengthAdjust="spacingAndGlyphs" >M-miR-142</text>
<defs>
<radialGradient id="cellg" cx="50%" cy="50%" r="50%"><stop offset="0%" stop-color="#d070dc"/><stop offset="70%" stop-color="#c65ad4"/><stop offset="100%" stop-color="#b444c6"/></radialGradient>
<radialGradient id="nucg" cx="50%" cy="50%" r="50%"><stop offset="0%" stop-color="#9a2ab4"/><stop offset="100%" stop-color="#801aa0"/></radialGradient>
<radialGradient id="bgs" cx="70%" cy="40%" r="80%"><stop offset="0" stop-color="#f2e2f0"/><stop offset="1" stop-color="#f6eef6"/></radialGradient>
<filter id="blur1" x="-10%" y="-10%" width="120%" height="120%"><feGaussianBlur stdDeviation="0.9"/></filter>
<filter id="blur05" x="-10%" y="-10%" width="120%" height="120%"><feGaussianBlur stdDeviation="0.45"/></filter>
<filter id="rough" x="-20%" y="-20%" width="140%" height="140%"><feTurbulence type="fractalNoise" baseFrequency="0.22" numOctaves="2" seed="4" result="n"/><feDisplacementMap in="SourceGraphic" in2="n" scale="2.6" xChannelSelector="R" yChannelSelector="G" result="d"/><feGaussianBlur in="d" stdDeviation="0.35"/></filter>
<clipPath id="clip1"><rect x="314.8" y="186.3" width="109" height="95.6"/></clipPath>
<clipPath id="clip2"><rect x="428.3" y="187.0" width="109.1" height="93.8"/></clipPath>
</defs>
<rect x="314.80" y="186.30" width="109.00" height="95.60" stroke="none" stroke-width="0" fill="url(#bgs)" />
<g clip-path="url(#clip1)"><g fill="#eedcee" stroke="#f9f3f9" stroke-width="1.2" filter="url(#blur05)">
<ellipse cx="312.5" cy="187.0" rx="6.2" ry="5.8" transform="rotate(26 312.5 187.0)"/>
<ellipse cx="324.7" cy="187.8" rx="6.7" ry="5.7" transform="rotate(13 324.7 187.8)"/>
<ellipse cx="336.0" cy="187.7" rx="7.1" ry="5.2" transform="rotate(17 336.0 187.7)"/>
<ellipse cx="344.6" cy="185.9" rx="6.9" ry="5.7" transform="rotate(-5 344.6 185.9)"/>
<ellipse cx="359.8" cy="186.6" rx="6.9" ry="5.8" transform="rotate(8 359.8 186.6)"/>
<ellipse cx="371.1" cy="184.5" rx="7.1" ry="5.0" transform="rotate(-20 371.1 184.5)"/>
<ellipse cx="380.9" cy="185.0" rx="6.7" ry="5.7" transform="rotate(-17 380.9 185.0)"/>
<ellipse cx="392.7" cy="186.3" rx="7.0" ry="5.6" transform="rotate(-27 392.7 186.3)"/>
<ellipse cx="318.6" cy="195.6" rx="6.7" ry="5.2" transform="rotate(-27 318.6 195.6)"/>
<ellipse cx="330.2" cy="195.6" rx="6.2" ry="5.3" transform="rotate(-19 330.2 195.6)"/>
<ellipse cx="341.0" cy="195.5" rx="6.3" ry="5.0" transform="rotate(-2 341.0 195.5)"/>
<ellipse cx="350.0" cy="198.5" rx="6.6" ry="5.6" transform="rotate(5 350.0 198.5)"/>
<ellipse cx="362.3" cy="195.9" rx="6.4" ry="5.9" transform="rotate(-30 362.3 195.9)"/>
<ellipse cx="376.9" cy="198.5" rx="6.6" ry="5.3" transform="rotate(-5 376.9 198.5)"/>
<ellipse cx="385.7" cy="198.8" rx="6.2" ry="5.8" transform="rotate(-8 385.7 198.8)"/>
<ellipse cx="313.6" cy="207.2" rx="6.1" ry="5.6" transform="rotate(-24 313.6 207.2)"/>
<ellipse cx="322.9" cy="206.7" rx="6.8" ry="5.3" transform="rotate(5 322.9 206.7)"/>
<ellipse cx="333.6" cy="206.3" rx="7.4" ry="5.8" transform="rotate(-5 333.6 206.3)"/>
<ellipse cx="345.7" cy="208.4" rx="7.2" ry="5.6" transform="rotate(-8 345.7 208.4)"/>
<ellipse cx="356.0" cy="208.7" rx="6.2" ry="5.6" transform="rotate(4 356.0 208.7)"/>
<ellipse cx="368.9" cy="207.2" rx="7.4" ry="6.0" transform="rotate(7 368.9 207.2)"/>
<ellipse cx="382.3" cy="207.9" rx="6.5" ry="5.9" transform="rotate(-30 382.3 207.9)"/>
<ellipse cx="391.8" cy="207.9" rx="6.2" ry="5.6" transform="rotate(7 391.8 207.9)"/>
<ellipse cx="318.5" cy="220.4" rx="6.2" ry="5.6" transform="rotate(23 318.5 220.4)"/>
<ellipse cx="327.1" cy="220.2" rx="6.6" ry="5.4" transform="rotate(-16 327.1 220.2)"/>
<ellipse cx="340.0" cy="219.3" rx="6.4" ry="6.0" transform="rotate(-7 340.0 219.3)"/>
<ellipse cx="350.0" cy="217.2" rx="7.4" ry="5.9" transform="rotate(6 350.0 217.2)"/>
<ellipse cx="362.2" cy="220.8" rx="6.4" ry="6.0" transform="rotate(-0 362.2 220.8)"/>
<ellipse cx="373.8" cy="220.0" rx="6.6" ry="5.3" transform="rotate(29 373.8 220.0)"/>
<ellipse cx="388.2" cy="220.8" rx="6.7" ry="5.3" transform="rotate(-1 388.2 220.8)"/>
<ellipse cx="397.4" cy="218.4" rx="6.2" ry="5.6" transform="rotate(-3 397.4 218.4)"/>
<ellipse cx="409.6" cy="220.1" rx="6.4" ry="5.8" transform="rotate(20 409.6 220.1)"/>
<ellipse cx="419.4" cy="220.0" rx="6.0" ry="5.5" transform="rotate(-14 419.4 220.0)"/>
<ellipse cx="313.2" cy="231.4" rx="7.4" ry="5.8" transform="rotate(-15 313.2 231.4)"/>
<ellipse cx="321.6" cy="231.8" rx="6.4" ry="5.2" transform="rotate(29 321.6 231.8)"/>
<ellipse cx="333.4" cy="229.4" rx="6.4" ry="5.6" transform="rotate(-2 333.4 229.4)"/>
<ellipse cx="346.9" cy="231.7" rx="7.0" ry="5.6" transform="rotate(15 346.9 231.7)"/>
<ellipse cx="357.4" cy="231.7" rx="6.2" ry="5.8" transform="rotate(-12 357.4 231.7)"/>
<ellipse cx="369.7" cy="229.2" rx="6.8" ry="5.3" transform="rotate(-12 369.7 229.2)"/>
<ellipse cx="380.3" cy="228.7" rx="6.8" ry="5.5" transform="rotate(-8 380.3 228.7)"/>
<ellipse cx="390.8" cy="228.6" rx="7.1" ry="5.6" transform="rotate(-28 390.8 228.6)"/>
<ellipse cx="404.8" cy="232.0" rx="6.4" ry="5.5" transform="rotate(25 404.8 232.0)"/>
<ellipse cx="414.1" cy="228.2" rx="7.3" ry="5.5" transform="rotate(-29 414.1 228.2)"/>
<ellipse cx="319.4" cy="241.1" rx="7.2" ry="5.4" transform="rotate(5 319.4 241.1)"/>
<ellipse cx="328.6" cy="239.9" rx="7.1" ry="5.6" transform="rotate(-1 328.6 239.9)"/>
<ellipse cx="340.9" cy="242.3" rx="7.4" ry="5.4" transform="rotate(-6 340.9 242.3)"/>
<ellipse cx="351.8" cy="240.7" rx="7.3" ry="5.2" transform="rotate(-12 351.8 240.7)"/>
<ellipse cx="361.7" cy="242.7" rx="7.2" ry="5.1" transform="rotate(20 361.7 242.7)"/>
<ellipse cx="373.1" cy="241.0" rx="7.0" ry="5.4" transform="rotate(-13 373.1 241.0)"/>
<ellipse cx="387.9" cy="239.5" rx="7.2" ry="5.9" transform="rotate(-21 387.9 239.5)"/>
<ellipse cx="398.9" cy="242.8" rx="6.7" ry="5.5" transform="rotate(-0 398.9 242.8)"/>
<ellipse cx="410.0" cy="242.2" rx="6.5" ry="5.2" transform="rotate(5 410.0 242.2)"/>
<ellipse cx="419.4" cy="240.7" rx="7.2" ry="5.1" transform="rotate(-16 419.4 240.7)"/>
<ellipse cx="310.6" cy="253.4" rx="7.2" ry="5.8" transform="rotate(10 310.6 253.4)"/>
<ellipse cx="322.7" cy="251.8" rx="6.0" ry="5.7" transform="rotate(29 322.7 251.8)"/>
<ellipse cx="337.0" cy="253.4" rx="7.5" ry="5.7" transform="rotate(-27 337.0 253.4)"/>
<ellipse cx="348.4" cy="251.8" rx="7.3" ry="5.2" transform="rotate(9 348.4 251.8)"/>
<ellipse cx="358.0" cy="252.9" rx="7.4" ry="5.7" transform="rotate(-22 358.0 252.9)"/>
<ellipse cx="369.4" cy="251.2" rx="6.4" ry="5.9" transform="rotate(-21 369.4 251.2)"/>
<ellipse cx="380.6" cy="250.6" rx="6.9" ry="5.4" transform="rotate(-20 380.6 250.6)"/>
<ellipse cx="392.0" cy="254.0" rx="6.9" ry="5.0" transform="rotate(-24 392.0 254.0)"/>
<ellipse cx="405.8" cy="252.5" rx="6.6" ry="5.1" transform="rotate(-27 405.8 252.5)"/>
<ellipse cx="415.5" cy="251.4" rx="6.9" ry="5.7" transform="rotate(23 415.5 251.4)"/>
<ellipse cx="315.9" cy="262.1" rx="6.2" ry="5.4" transform="rotate(-11 315.9 262.1)"/>
<ellipse cx="330.1" cy="264.5" rx="6.9" ry="5.5" transform="rotate(26 330.1 264.5)"/>
<ellipse cx="339.9" cy="264.1" rx="6.6" ry="5.1" transform="rotate(12 339.9 264.1)"/>
<ellipse cx="353.1" cy="263.8" rx="6.2" ry="5.6" transform="rotate(0 353.1 263.8)"/>
<ellipse cx="364.2" cy="264.0" rx="7.4" ry="5.6" transform="rotate(7 364.2 264.0)"/>
<ellipse cx="374.5" cy="263.8" rx="6.4" ry="5.6" transform="rotate(-15 374.5 263.8)"/>
<ellipse cx="385.6" cy="262.9" rx="7.1" ry="5.5" transform="rotate(-22 385.6 262.9)"/>
<ellipse cx="399.1" cy="263.8" rx="6.4" ry="5.4" transform="rotate(14 399.1 263.8)"/>
<ellipse cx="408.7" cy="264.8" rx="6.3" ry="5.7" transform="rotate(9 408.7 264.8)"/>
<ellipse cx="421.6" cy="263.3" rx="6.1" ry="5.7" transform="rotate(-25 421.6 263.3)"/>
<ellipse cx="310.0" cy="274.2" rx="6.2" ry="5.6" transform="rotate(-16 310.0 274.2)"/>
<ellipse cx="322.5" cy="274.7" rx="7.3" ry="5.5" transform="rotate(-11 322.5 274.7)"/>
<ellipse cx="334.9" cy="275.3" rx="7.2" ry="5.0" transform="rotate(14 334.9 275.3)"/>
<ellipse cx="347.1" cy="275.2" rx="6.1" ry="5.2" transform="rotate(27 347.1 275.2)"/>
<ellipse cx="357.4" cy="274.6" rx="7.0" ry="5.2" transform="rotate(-23 357.4 274.6)"/>
<ellipse cx="370.5" cy="275.3" rx="7.5" ry="5.7" transform="rotate(19 370.5 275.3)"/>
<ellipse cx="380.4" cy="275.4" rx="6.2" ry="5.6" transform="rotate(-9 380.4 275.4)"/>
<ellipse cx="394.0" cy="274.8" rx="6.4" ry="5.3" transform="rotate(7 394.0 274.8)"/>
<ellipse cx="405.9" cy="275.8" rx="6.5" ry="5.4" transform="rotate(-22 405.9 275.8)"/>
<ellipse cx="415.6" cy="274.1" rx="7.2" ry="5.6" transform="rotate(18 415.6 274.1)"/>
</g>
<ellipse cx="318" cy="278" rx="10" ry="8" fill="#f6eef6" filter="url(#blur1)"/>
<g filter="url(#rough)">
<ellipse cx="364.6" cy="213.9" rx="10" ry="8.8" fill="url(#cellg)"/>
<ellipse cx="395.9" cy="205.1" rx="8" ry="8.4" fill="url(#cellg)"/>
<ellipse cx="387.1" cy="228.4" rx="9.3" ry="8.8" fill="url(#cellg)"/>
<ellipse cx="373.4" cy="235.6" rx="8.4" ry="7.7" fill="url(#cellg)"/>
<ellipse cx="404.7" cy="227.6" rx="8.4" ry="10.2" fill="url(#cellg)"/>
<ellipse cx="413.6" cy="231.6" rx="4.5" ry="6.2" fill="url(#cellg)"/>
<ellipse cx="333.3" cy="266.9" rx="10.4" ry="10" fill="url(#cellg)"/>
<ellipse cx="379.8" cy="263.7" rx="10.2" ry="9.2" fill="url(#cellg)"/>
<ellipse cx="408.7" cy="262.1" rx="10.4" ry="7.2" fill="url(#cellg)"/>
<ellipse cx="396.4" cy="205.6" rx="4.2" ry="3.8" fill="#e0a8e8"/>
<ellipse cx="380.5" cy="264.5" rx="7.2" ry="6.2" fill="#cf6fdc"/>
<path d="M370,262 C372,255 385,253 389,260" stroke="#9a30b4" stroke-width="1.2" fill="none"/>
<path d="M373,270 C378,273 385,273 389,268" stroke="#9a30b4" stroke-width="1.2" fill="none"/>
</g></g>
<text x="400.70" y="269.30" font-size="7.8" textLength="18.50" lengthAdjust="spacingAndGlyphs" >10uM</text>
<line x1="399.90" y1="273.40" x2="420.00" y2="273.40" stroke="#1a1a1a" stroke-width="1.6"/>
<rect x="428.30" y="187.00" width="109.10" height="93.80" stroke="none" stroke-width="0" fill="#f5edf5" />
<g clip-path="url(#clip2)"><g fill="#e6d8ec" filter="url(#blur1)">
<ellipse cx="433" cy="240" rx="7" ry="6.5"/>
<ellipse cx="444" cy="244" rx="7.5" ry="6.5"/>
<ellipse cx="456" cy="246" rx="7" ry="6"/>
<ellipse cx="446" cy="256" rx="7" ry="5.5"/>
<ellipse cx="458" cy="258" rx="7" ry="5.5"/>
<ellipse cx="470" cy="258" rx="6" ry="5"/>
<ellipse cx="492" cy="233" rx="9" ry="7.5"/>
<ellipse cx="504" cy="230" rx="9" ry="7"/>
<ellipse cx="516" cy="236" rx="7" ry="6"/>
<ellipse cx="496" cy="247" rx="7" ry="5.5"/>
<ellipse cx="510" cy="250" rx="6" ry="5"/>
<ellipse cx="520" cy="248" rx="5" ry="5"/>
<ellipse cx="485" cy="252" rx="6" ry="5"/>
</g>
<g filter="url(#rough)">
<ellipse cx="460.5" cy="214.5" rx="11" ry="9.5" fill="#f8f2f8"/>
<path d="M451,213 C451,206 457,204.5 462,205 C468,205.5 471,210 470.3,215 C469.8,219 467,222.2 463,222.2 C461.5,222.2 461,220.6 462.8,219.4 C465.5,217.8 466,214.5 465,211.5 C463.8,209.3 460,209.2 457.5,210.8 C455.8,212.3 456.2,215.5 457.2,217.5 C456,219 452.5,218.5 451.6,216.5 Z" fill="#8a1ca2"/>
<path d="M466,243 C466,238 472,236.5 476,237.5 C480,236.5 486,238.5 487,243 C488,247 484,253 478,253.7 C472,254 466,250 466,246 Z" fill="#8a1ca2"/>
<ellipse cx="476.3" cy="245" rx="7" ry="5" fill="#9a30b4" opacity="0.7"/>
<circle cx="499.6" cy="261.9" r="9" fill="#f8f2f8"/>
<path d="M491,262 C491,256 496,254.5 500,254.5 C505,254.5 508.5,258 508.5,262 C508.5,266.5 505,269.2 500,269.2 C495,269.2 491,266.5 491,262 Z M495.5,262.5 C495.5,265 497,266 498.5,265.5 L497.8,259.5 C496.5,259.8 495.5,260.8 495.5,262.5 Z M501,258 L502,265.5 C504,265 505,263.5 504.5,261 C504,259 502.5,258 501,258 Z" fill="#8a1ca2" fill-rule="evenodd"/>
</g></g>
<text x="513.70" y="268.40" font-size="7.8" textLength="18.80" lengthAdjust="spacingAndGlyphs" >10uM</text>
<line x1="513.30" y1="273.00" x2="533.00" y2="273.00" stroke="#1a1a1a" stroke-width="1.6"/>
<text x="541.70" y="162.10" font-size="16.5" >e</text>
<text x="577.50" y="180.00" font-size="11.3" font-weight="bold" textLength="89.40" lengthAdjust="spacingAndGlyphs" >Survival of NSG</text>
<line x1="582.40" y1="190.00" x2="590.50" y2="190.00" stroke="#ff0000" stroke-width="1.3"/>
<line x1="586.40" y1="188.30" x2="586.40" y2="190.00" stroke="#ff0000" stroke-width="1"/>
<text x="595.00" y="193.20" font-size="8.6" font-weight="bold" fill="#ff0000" textLength="16.00" lengthAdjust="spacingAndGlyphs" >SCR</text>
<line x1="582.40" y1="202.10" x2="590.50" y2="202.10" stroke="#0000ff" stroke-width="1.3"/>
<line x1="586.40" y1="200.40" x2="586.40" y2="202.10" stroke="#0000ff" stroke-width="1"/>
<text x="595.00" y="205.40" font-size="8.6" font-weight="bold" fill="#0000ff" textLength="43.50" lengthAdjust="spacingAndGlyphs" >M-miR-142</text>
<line x1="644.50" y1="188.00" x2="644.50" y2="205.40" stroke="#1a1a1a" stroke-width="1.2"/>
<text x="646.60" y="198.90" font-size="7.6" font-weight="bold" textLength="33.00" lengthAdjust="spacingAndGlyphs" >P=0.0005</text>
<line x1="568.60" y1="211.20" x2="568.60" y2="268.80" stroke="#1a1a1a" stroke-width="1.2"/>
<line x1="565.60" y1="211.20" x2="568.60" y2="211.20" stroke="#1a1a1a" stroke-width="1.2"/>
<text x="564.60" y="214.20" font-size="7.7" font-weight="bold" text-anchor="end" >100</text>
<line x1="565.60" y1="240.00" x2="568.60" y2="240.00" stroke="#1a1a1a" stroke-width="1.2"/>
<text x="564.60" y="243.00" font-size="7.7" font-weight="bold" text-anchor="end" >50</text>
<line x1="565.60" y1="268.80" x2="568.60" y2="268.80" stroke="#1a1a1a" stroke-width="1.2"/>
<text x="564.60" y="271.80" font-size="7.7" font-weight="bold" text-anchor="end" >0</text>
<line x1="568.60" y1="205.60" x2="568.60" y2="211.20" stroke="#1a1a1a" stroke-width="1.2"/>
<line x1="568.60" y1="268.80" x2="675.20" y2="268.80" stroke="#1a1a1a" stroke-width="1.2"/>
<line x1="568.60" y1="268.80" x2="568.60" y2="271.80" stroke="#1a1a1a" stroke-width="1.2"/>
<line x1="589.88" y1="268.80" x2="589.88" y2="271.80" stroke="#1a1a1a" stroke-width="1.2"/>
<line x1="611.16" y1="268.80" x2="611.16" y2="271.80" stroke="#1a1a1a" stroke-width="1.2"/>
<line x1="632.44" y1="268.80" x2="632.44" y2="271.80" stroke="#1a1a1a" stroke-width="1.2"/>
<line x1="653.72" y1="268.80" x2="653.72" y2="271.80" stroke="#1a1a1a" stroke-width="1.2"/>
<line x1="675.00" y1="268.80" x2="675.00" y2="271.80" stroke="#1a1a1a" stroke-width="1.2"/>
<text x="568.60" y="280.40" font-size="7.8" font-weight="bold" text-anchor="middle" >0</text>
<text x="589.88" y="280.40" font-size="7.8" font-weight="bold" text-anchor="middle" >20</text>
<text x="611.16" y="280.40" font-size="7.8" font-weight="bold" text-anchor="middle" >40</text>
<text x="632.44" y="280.40" font-size="7.8" font-weight="bold" text-anchor="middle" >60</text>
<text x="653.72" y="280.40" font-size="7.8" font-weight="bold" text-anchor="middle" >80</text>
<text x="675.00" y="280.40" font-size="7.8" font-weight="bold" text-anchor="middle" >100</text>
<text x="575.60" y="290.60" font-size="8.2" font-weight="bold" textLength="93.10" lengthAdjust="spacingAndGlyphs" >Days after transplantation</text>
<text transform="translate(549.00,235.60) rotate(-90)" font-size="8.2" font-weight="bold" text-anchor="middle" textLength="57.20" lengthAdjust="spacingAndGlyphs">Percent survival</text>
<path d="M596.26,211.20 L604.56,211.20 L604.56,216.50 L609.88,216.50 L609.88,222.20 L617.86,222.20 L617.86,227.50 L619.99,227.50 L619.99,233.84 L622.54,233.84 L622.54,239.77 L625.10,239.77 L625.10,245.53 L630.63,245.53 L630.63,251.23 L636.27,251.23 L636.27,257.16 L653.19,257.16 L653.19,263.10 L656.38,263.10 L656.38,268.80" stroke="#0000ff" stroke-width="1.3" fill="none" stroke-linejoin="miter"/>
<path d="M568.60,211.20 L596.26,211.20 L596.26,221.16 L599.67,221.16 L599.67,226.46 L604.56,226.46 L604.56,231.76 L607.33,231.76 L607.33,237.12 L608.82,237.12 L608.82,242.30 L612.01,242.30 L612.01,252.90 L612.97,252.90 L612.97,258.20 L616.59,258.20 L616.59,263.50 L617.86,263.50 L617.86,268.80" stroke="#ff0000" stroke-width="1.3" fill="none" stroke-linejoin="miter"/>
<text x="6.50" y="324.30" font-size="16.5" >f</text>
<g transform="translate(25.00,339.00) scale(1.0)"><path d="M0.3,6.6 C2,4 6,5.2 10.6,8" stroke="#d49c98" stroke-width="1.1" fill="none"/><path d="M0.3,6.6 C0.4,8.2 1.8,9.2 3.8,9.6" stroke="#d49c98" stroke-width="0.9" fill="none"/><path d="M14.6,15.6 L14.3,19.2 M23.8,14.6 L24.6,17.6 M9.6,14.4 L8.4,15.6" stroke="#d49c98" stroke-width="1.5" fill="none"/><path d="M13.4,19.4 L16,19.4 M23.6,17.8 L26.2,17.8" stroke="#d49c98" stroke-width="1.0" fill="none"/><path d="M10,9.5 C10,5 14,3 18.5,3.2 C21,2.2 24,2 26.5,3.2 C28.5,4.2 30.2,5.5 30.5,6.8 C30.2,8 28.8,9 27.6,10.6 C26.5,13.5 24.5,15.5 20.5,16.3 C16.5,17 11.5,16 10.3,12.5 Z" fill="#4a4644" stroke="#3a3634" stroke-width="0.6"/><ellipse cx="18.6" cy="3.6" rx="2.5" ry="3.1" fill="#d49c98"/><path d="M23.8,4.2 L25.2,0.4 L28.2,3.6 Z" fill="#4a4644" stroke="#3a3634" stroke-width="0.5"/><circle cx="23.4" cy="5.4" r="0.75" fill="#2a2222"/><circle cx="30.3" cy="6.9" r="0.6" fill="#d49c98"/></g>
<g transform="translate(25.00,364.70) scale(1.0)"><path d="M0.3,6.6 C2,4 6,5.2 10.6,8" stroke="#d49c98" stroke-width="1.1" fill="none"/><path d="M0.3,6.6 C0.4,8.2 1.8,9.2 3.8,9.6" stroke="#d49c98" stroke-width="0.9" fill="none"/><path d="M14.6,15.6 L14.3,19.2 M23.8,14.6 L24.6,17.6 M9.6,14.4 L8.4,15.6" stroke="#d49c98" stroke-width="1.5" fill="none"/><path d="M13.4,19.4 L16,19.4 M23.6,17.8 L26.2,17.8" stroke="#d49c98" stroke-width="1.0" fill="none"/><path d="M10,9.5 C10,5 14,3 18.5,3.2 C21,2.2 24,2 26.5,3.2 C28.5,4.2 30.2,5.5 30.5,6.8 C30.2,8 28.8,9 27.6,10.6 C26.5,13.5 24.5,15.5 20.5,16.3 C16.5,17 11.5,16 10.3,12.5 Z" fill="#4a4644" stroke="#3a3634" stroke-width="0.6"/><ellipse cx="18.6" cy="3.6" rx="2.5" ry="3.1" fill="#d49c98"/><path d="M23.8,4.2 L25.2,0.4 L28.2,3.6 Z" fill="#4a4644" stroke="#3a3634" stroke-width="0.5"/><circle cx="23.4" cy="5.4" r="0.75" fill="#2a2222"/><circle cx="30.3" cy="6.9" r="0.6" fill="#d49c98"/></g>
<rect x="61.00" y="336.90" width="104.60" height="18.30" stroke="#333" stroke-width="1.3" fill="none" />
<rect x="61.00" y="363.30" width="104.60" height="18.20" stroke="#333" stroke-width="1.3" fill="none" />
<text x="67.40" y="351.60" font-size="10.8" font-weight="bold" font-style="italic" textLength="94.50" lengthAdjust="spacingAndGlyphs" >Mir142<tspan font-size="6.5" dy="-4">-/-</tspan><tspan dy="4">BCR-ABL</tspan></text>
<text x="67.40" y="376.60" font-size="10.8" font-weight="bold" font-style="italic" textLength="94.50" lengthAdjust="spacingAndGlyphs" >Mir142<tspan font-size="6.5" dy="-4">-/-</tspan><tspan dy="4">BCR-ABL</tspan></text>
<text x="109.30" y="328.20" font-size="11.2" textLength="105.20" lengthAdjust="spacingAndGlyphs" >BCR-ABL induction</text>
<rect x="219.40" y="314.20" width="43.30" height="16.90" stroke="#1a1a1a" stroke-width="1.3" fill="none" />
<text x="222.90" y="328.20" font-size="11" font-weight="bold" textLength="37.70" lengthAdjust="spacingAndGlyphs" >day 15</text>
<text x="171.20" y="346.20" font-size="12" font-weight="bold" fill="#0000ff" textLength="61.50" lengthAdjust="spacingAndGlyphs" >M-miR-142</text>
<text x="187.10" y="367.70" font-size="12" font-weight="bold" fill="#ff0000" textLength="25.00" lengthAdjust="spacingAndGlyphs" >SCR</text>
<line x1="171.20" y1="350.40" x2="399.50" y2="350.40" stroke="#555" stroke-width="2.5"/>
<path d="M399.00,347.80 L404.00,350.40 L399.00,353.00 Z" fill="#555"/>
<line x1="171.20" y1="374.00" x2="399.50" y2="374.00" stroke="#555" stroke-width="2.5"/>
<path d="M399.00,371.40 L404.00,374.00 L399.00,376.60 Z" fill="#555"/>
<path d="M242.50,335.20 L242.50,346.50 M238.40,340.30 L242.50,346.50 L246.60,340.30 M250.85,335.20 L250.85,346.50 M246.75,340.30 L250.85,346.50 L254.95,340.30 M259.20,335.20 L259.20,346.50 M255.10,340.30 L259.20,346.50 L263.30,340.30 M267.55,335.20 L267.55,346.50 M263.45,340.30 L267.55,346.50 L271.65,340.30 M275.90,335.20 L275.90,346.50 M271.80,340.30 L275.90,346.50 L280.00,340.30 M284.25,335.20 L284.25,346.50 M280.15,340.30 L284.25,346.50 L288.35,340.30 " stroke="#0000ff" stroke-width="1.2" fill="none" stroke-linejoin="miter"/>
<path d="M242.50,357.30 L242.50,368.30 M238.40,362.10 L242.50,368.30 L246.60,362.10 M250.85,357.30 L250.85,368.30 M246.75,362.10 L250.85,368.30 L254.95,362.10 M259.20,357.30 L259.20,368.30 M255.10,362.10 L259.20,368.30 L263.30,362.10 M267.55,357.30 L267.55,368.30 M263.45,362.10 L267.55,368.30 L271.65,362.10 M275.90,357.30 L275.90,368.30 M271.80,362.10 L275.90,368.30 L280.00,362.10 M284.25,357.30 L284.25,368.30 M280.15,362.10 L284.25,368.30 L288.35,362.10 " stroke="#ff0000" stroke-width="1.2" fill="none" stroke-linejoin="miter"/>
<path d="M297.80,335.20 L297.80,346.50 M293.70,340.30 L297.80,346.50 L301.90,340.30 M306.15,335.20 L306.15,346.50 M302.05,340.30 L306.15,346.50 L310.25,340.30 M314.50,335.20 L314.50,346.50 M310.40,340.30 L314.50,346.50 L318.60,340.30 M322.85,335.20 L322.85,346.50 M318.75,340.30 L322.85,346.50 L326.95,340.30 M331.20,335.20 L331.20,346.50 M327.10,340.30 L331.20,346.50 L335.30,340.30 M339.55,335.20 L339.55,346.50 M335.45,340.30 L339.55,346.50 L343.65,340.30 " stroke="#0000ff" stroke-width="1.2" fill="none" stroke-linejoin="miter"/>
<path d="M297.80,357.30 L297.80,368.30 M293.70,362.10 L297.80,368.30 L301.90,362.10 M306.15,357.30 L306.15,368.30 M302.05,362.10 L306.15,368.30 L310.25,362.10 M314.50,357.30 L314.50,368.30 M310.40,362.10 L314.50,368.30 L318.60,362.10 M322.85,357.30 L322.85,368.30 M318.75,362.10 L322.85,368.30 L326.95,362.10 M331.20,357.30 L331.20,368.30 M327.10,362.10 L331.20,368.30 L335.30,362.10 M339.55,357.30 L339.55,368.30 M335.45,362.10 L339.55,368.30 L343.65,362.10 " stroke="#ff0000" stroke-width="1.2" fill="none" stroke-linejoin="miter"/>
<path d="M353.50,335.20 L353.50,346.50 M349.40,340.30 L353.50,346.50 L357.60,340.30 M361.85,335.20 L361.85,346.50 M357.75,340.30 L361.85,346.50 L365.95,340.30 M370.20,335.20 L370.20,346.50 M366.10,340.30 L370.20,346.50 L374.30,340.30 M378.55,335.20 L378.55,346.50 M374.45,340.30 L378.55,346.50 L382.65,340.30 M386.90,335.20 L386.90,346.50 M382.80,340.30 L386.90,346.50 L391.00,340.30 M395.25,335.20 L395.25,346.50 M391.15,340.30 L395.25,346.50 L399.35,340.30 " stroke="#0000ff" stroke-width="1.2" fill="none" stroke-linejoin="miter"/>
<path d="M353.50,357.30 L353.50,368.30 M349.40,362.10 L353.50,368.30 L357.60,362.10 M361.85,357.30 L361.85,368.30 M357.75,362.10 L361.85,368.30 L365.95,362.10 M370.20,357.30 L370.20,368.30 M366.10,362.10 L370.20,368.30 L374.30,362.10 M378.55,357.30 L378.55,368.30 M374.45,362.10 L378.55,368.30 L382.65,362.10 M386.90,357.30 L386.90,368.30 M382.80,362.10 L386.90,368.30 L391.00,362.10 M395.25,357.30 L395.25,368.30 M391.15,362.10 L395.25,368.30 L399.35,362.10 " stroke="#ff0000" stroke-width="1.2" fill="none" stroke-linejoin="miter"/>
<text x="191.80" y="387.50" font-size="11.2" textLength="203.10" lengthAdjust="spacingAndGlyphs" >M-miR-142: 30mg/kg/day, iv, 3 weeks</text>
<rect x="409.70" y="332.50" width="100.30" height="48.10" stroke="#1a1a1a" stroke-width="1.8" fill="none" />
<text x="414.20" y="354.10" font-size="11.5" font-weight="bold" >Survival</text>
<text x="414.20" y="368.90" font-size="11.5" font-weight="bold" textLength="89.70" lengthAdjust="spacingAndGlyphs" >Transplantation</text>
<text x="5.50" y="414.20" font-size="16.5" >g</text>
<text x="177.20" y="417.50" font-size="14.8" font-weight="bold" textLength="150.20" lengthAdjust="spacingAndGlyphs" >Primary treated mice</text>
<line x1="36.10" y1="425.10" x2="432.50" y2="425.10" stroke="#ff0000" stroke-width="2.0"/>
<text x="60.20" y="442.10" font-size="10.5" font-weight="bold" textLength="40.00" lengthAdjust="spacingAndGlyphs" >T in BM</text>
<text x="64.70" y="456.90" font-size="8.6" fill="#333" textLength="32.30" lengthAdjust="spacingAndGlyphs" >P=0.013</text>
<line x1="73.00" y1="461.50" x2="89.40" y2="461.50" stroke="#1a1a1a" stroke-width="1.8"/>
<line x1="62.80" y1="458.20" x2="62.80" y2="511.50" stroke="#1a1a1a" stroke-width="1.2"/>
<line x1="60.00" y1="458.20" x2="62.80" y2="458.20" stroke="#1a1a1a" stroke-width="1.2"/>
<text x="59.00" y="461.20" font-size="9" font-weight="bold" text-anchor="end" >4</text>
<line x1="60.00" y1="471.80" x2="62.80" y2="471.80" stroke="#1a1a1a" stroke-width="1.2"/>
<text x="59.00" y="474.80" font-size="9" font-weight="bold" text-anchor="end" >3</text>
<line x1="60.00" y1="485.20" x2="62.80" y2="485.20" stroke="#1a1a1a" stroke-width="1.2"/>
<text x="59.00" y="488.20" font-size="9" font-weight="bold" text-anchor="end" >2</text>
<line x1="60.00" y1="498.30" x2="62.80" y2="498.30" stroke="#1a1a1a" stroke-width="1.2"/>
<text x="59.00" y="501.30" font-size="9" font-weight="bold" text-anchor="end" >1</text>
<line x1="60.00" y1="511.50" x2="62.80" y2="511.50" stroke="#1a1a1a" stroke-width="1.2"/>
<text x="59.00" y="514.50" font-size="9" font-weight="bold" text-anchor="end" >0</text>
<rect x="67.30" y="493.70" width="10.30" height="17.80" stroke="#ff0000" stroke-width="1.0" fill="none" stroke-opacity="0.6"/>
<rect x="82.20" y="480.60" width="10.50" height="30.90" stroke="#0000ff" stroke-width="1.0" fill="none" stroke-opacity="0.6"/>
<line x1="62.80" y1="511.50" x2="97.30" y2="511.50" stroke="#1a1a1a" stroke-width="1.2"/>
<line x1="72.40" y1="511.50" x2="72.40" y2="514.50" stroke="#1a1a1a" stroke-width="1.2"/>
<line x1="87.40" y1="511.50" x2="87.40" y2="514.50" stroke="#1a1a1a" stroke-width="1.2"/>
<line x1="72.40" y1="491.00" x2="72.40" y2="496.50" stroke="#ff0000" stroke-width="1"/>
<line x1="70.40" y1="491.00" x2="74.40" y2="491.00" stroke="#ff0000" stroke-width="1"/>
<line x1="70.40" y1="496.50" x2="74.40" y2="496.50" stroke="#ff0000" stroke-width="1"/>
<line x1="87.40" y1="477.00" x2="87.40" y2="484.50" stroke="#0000ff" stroke-width="1"/>
<line x1="85.40" y1="477.00" x2="89.40" y2="477.00" stroke="#0000ff" stroke-width="1"/>
<line x1="85.40" y1="484.50" x2="89.40" y2="484.50" stroke="#0000ff" stroke-width="1"/>
<circle cx="72.60" cy="480.60" r="2.0" stroke="#ff0000" stroke-width="1.1" fill="none"/>
<circle cx="69.40" cy="489.40" r="2.0" stroke="#ff0000" stroke-width="1.1" fill="none"/>
<circle cx="72.60" cy="491.40" r="2.0" stroke="#ff0000" stroke-width="1.1" fill="none"/>
<circle cx="76.00" cy="491.40" r="2.0" stroke="#ff0000" stroke-width="1.1" fill="none"/>
<circle cx="72.60" cy="494.40" r="2.0" stroke="#ff0000" stroke-width="1.1" fill="none"/>
<circle cx="76.00" cy="495.00" r="2.0" stroke="#ff0000" stroke-width="1.1" fill="none"/>
<circle cx="72.60" cy="498.00" r="2.0" stroke="#ff0000" stroke-width="1.1" fill="none"/>
<circle cx="72.60" cy="504.20" r="2.0" stroke="#ff0000" stroke-width="1.1" fill="none"/>
<circle cx="84.10" cy="469.00" r="2.0" stroke="#0000ff" stroke-width="1.1" fill="none"/>
<circle cx="90.30" cy="471.40" r="2.0" stroke="#0000ff" stroke-width="1.1" fill="none"/>
<circle cx="84.10" cy="474.70" r="2.0" stroke="#0000ff" stroke-width="1.1" fill="none"/>
<circle cx="84.10" cy="482.30" r="2.0" stroke="#0000ff" stroke-width="1.1" fill="none"/>
<circle cx="87.40" cy="481.20" r="2.0" stroke="#0000ff" stroke-width="1.1" fill="none"/>
<circle cx="90.70" cy="481.50" r="2.0" stroke="#0000ff" stroke-width="1.1" fill="none"/>
<circle cx="87.40" cy="487.40" r="2.0" stroke="#0000ff" stroke-width="1.1" fill="none"/>
<circle cx="87.40" cy="494.60" r="2.0" stroke="#0000ff" stroke-width="1.1" fill="none"/>
<text transform="translate(36.60,483.80) rotate(-90)" font-size="9.2" font-weight="bold" text-anchor="middle" textLength="47.30" lengthAdjust="spacingAndGlyphs">CD3+ in BM</text>
<text transform="translate(48.40,483.80) rotate(-90)" font-size="9.2" font-weight="bold" text-anchor="middle" textLength="49.90" lengthAdjust="spacingAndGlyphs">(x10<tspan font-size="6" dy="-3.3">5</tspan><tspan dy="3.3">/femur)</tspan></text>
<text transform="translate(76.00,523.00) rotate(-45)" font-size="8.6" font-weight="bold" text-anchor="end">SCR</text>
<text transform="translate(90.50,523.00) rotate(-45)" font-size="8.6" font-weight="bold" text-anchor="end">M-miR-142</text>
<text x="155.20" y="441.20" font-size="10.5" font-weight="bold" textLength="23.30" lengthAdjust="spacingAndGlyphs" >WBC</text>
<text x="155.50" y="452.60" font-size="7.8" fill="#333" textLength="23.60" lengthAdjust="spacingAndGlyphs" >P=0.01</text>
<line x1="160.10" y1="456.30" x2="175.80" y2="456.30" stroke="#1a1a1a" stroke-width="1.8"/>
<line x1="150.90" y1="461.50" x2="150.90" y2="510.10" stroke="#1a1a1a" stroke-width="1.2"/>
<line x1="148.10" y1="461.50" x2="150.90" y2="461.50" stroke="#1a1a1a" stroke-width="1.2"/>
<text x="147.10" y="464.50" font-size="8.6" font-weight="bold" text-anchor="end" >30</text>
<line x1="148.10" y1="478.00" x2="150.90" y2="478.00" stroke="#1a1a1a" stroke-width="1.2"/>
<text x="147.10" y="481.00" font-size="8.6" font-weight="bold" text-anchor="end" >20</text>
<line x1="148.10" y1="494.40" x2="150.90" y2="494.40" stroke="#1a1a1a" stroke-width="1.2"/>
<text x="147.10" y="497.40" font-size="8.6" font-weight="bold" text-anchor="end" >10</text>
<line x1="148.10" y1="510.10" x2="150.90" y2="510.10" stroke="#1a1a1a" stroke-width="1.2"/>
<text x="147.10" y="513.10" font-size="8.6" font-weight="bold" text-anchor="end" >0</text>
<rect x="155.20" y="484.10" width="9.50" height="26.00" stroke="#ff0000" stroke-width="1.0" fill="none" stroke-opacity="0.6"/>
<rect x="169.30" y="500.30" width="9.40" height="9.80" stroke="#0000ff" stroke-width="1.0" fill="none" stroke-opacity="0.6"/>
<line x1="150.90" y1="510.10" x2="183.70" y2="510.10" stroke="#1a1a1a" stroke-width="1.2"/>
<line x1="160.00" y1="510.10" x2="160.00" y2="513.10" stroke="#1a1a1a" stroke-width="1.2"/>
<line x1="173.90" y1="510.10" x2="173.90" y2="513.10" stroke="#1a1a1a" stroke-width="1.2"/>
<line x1="160.00" y1="481.00" x2="160.00" y2="488.00" stroke="#ff0000" stroke-width="1"/>
<line x1="158.00" y1="481.00" x2="162.00" y2="481.00" stroke="#ff0000" stroke-width="1"/>
<line x1="158.00" y1="488.00" x2="162.00" y2="488.00" stroke="#ff0000" stroke-width="1"/>
<line x1="173.90" y1="496.40" x2="173.90" y2="503.50" stroke="#0000ff" stroke-width="1"/>
<line x1="171.90" y1="496.40" x2="175.90" y2="496.40" stroke="#0000ff" stroke-width="1"/>
<line x1="171.90" y1="503.50" x2="175.90" y2="503.50" stroke="#0000ff" stroke-width="1"/>
<circle cx="160.10" cy="464.80" r="2.0" stroke="#ff0000" stroke-width="1.1" fill="none"/>
<circle cx="160.10" cy="474.90" r="2.0" stroke="#ff0000" stroke-width="1.1" fill="none"/>
<circle cx="160.10" cy="479.70" r="2.0" stroke="#ff0000" stroke-width="1.1" fill="none"/>
<circle cx="156.80" cy="484.90" r="2.0" stroke="#ff0000" stroke-width="1.1" fill="none"/>
<circle cx="160.00" cy="485.20" r="2.0" stroke="#ff0000" stroke-width="1.1" fill="none"/>
<circle cx="163.10" cy="486.50" r="2.0" stroke="#ff0000" stroke-width="1.1" fill="none"/>
<circle cx="160.00" cy="490.40" r="2.0" stroke="#ff0000" stroke-width="1.1" fill="none"/>
<circle cx="160.00" cy="495.40" r="2.0" stroke="#ff0000" stroke-width="1.1" fill="none"/>
<circle cx="160.00" cy="501.60" r="2.0" stroke="#ff0000" stroke-width="1.1" fill="none"/>
<circle cx="173.90" cy="483.90" r="2.0" stroke="#0000ff" stroke-width="1.1" fill="none"/>
<circle cx="173.90" cy="488.50" r="2.0" stroke="#0000ff" stroke-width="1.1" fill="none"/>
<circle cx="171.90" cy="502.30" r="2.0" stroke="#0000ff" stroke-width="1.1" fill="none"/>
<circle cx="173.90" cy="503.80" r="2.0" stroke="#0000ff" stroke-width="1.1" fill="none"/>
<circle cx="175.20" cy="504.60" r="2.0" stroke="#0000ff" stroke-width="1.1" fill="none"/>
<circle cx="170.60" cy="505.20" r="2.0" stroke="#0000ff" stroke-width="1.1" fill="none"/>
<circle cx="177.20" cy="505.20" r="2.0" stroke="#0000ff" stroke-width="1.1" fill="none"/>
<circle cx="173.90" cy="506.80" r="2.0" stroke="#0000ff" stroke-width="1.1" fill="none"/>
<text transform="translate(133.60,485.20) rotate(-90)" font-size="8.8" font-weight="bold" text-anchor="middle" textLength="53.90" lengthAdjust="spacingAndGlyphs">WBC (x10<tspan font-size="6" dy="-3.3">6</tspan><tspan dy="3.3">/ml)</tspan></text>
<text transform="translate(162.80,522.00) rotate(-45)" font-size="7.9" font-weight="bold" text-anchor="end">SCR</text>
<text transform="translate(176.30,522.00) rotate(-45)" font-size="7.9" font-weight="bold" text-anchor="end">M-miR-142</text>
<text x="228.60" y="440.90" font-size="10.5" font-weight="bold" textLength="53.50" lengthAdjust="spacingAndGlyphs" >Donor LSK</text>
<text x="241.90" y="452.50" font-size="10.5" font-weight="bold" textLength="26.20" lengthAdjust="spacingAndGlyphs" >in PB</text>
<text x="241.60" y="463.70" font-size="8.6" fill="#333" textLength="30.10" lengthAdjust="spacingAndGlyphs" >P=0.012</text>
<line x1="249.50" y1="468.00" x2="263.70" y2="468.00" stroke="#1a1a1a" stroke-width="1.8"/>
<line x1="240.50" y1="467.50" x2="240.50" y2="510.60" stroke="#1a1a1a" stroke-width="1.2"/>
<line x1="237.70" y1="467.50" x2="240.50" y2="467.50" stroke="#1a1a1a" stroke-width="1.2"/>
<text x="236.70" y="470.50" font-size="8.6" font-weight="bold" text-anchor="end" >2.5</text>
<line x1="237.70" y1="476.50" x2="240.50" y2="476.50" stroke="#1a1a1a" stroke-width="1.2"/>
<text x="236.70" y="479.50" font-size="8.6" font-weight="bold" text-anchor="end" >2.0</text>
<line x1="237.70" y1="485.20" x2="240.50" y2="485.20" stroke="#1a1a1a" stroke-width="1.2"/>
<text x="236.70" y="488.20" font-size="8.6" font-weight="bold" text-anchor="end" >1.5</text>
<line x1="237.70" y1="493.40" x2="240.50" y2="493.40" stroke="#1a1a1a" stroke-width="1.2"/>
<text x="236.70" y="496.40" font-size="8.6" font-weight="bold" text-anchor="end" >1.0</text>
<line x1="237.70" y1="502.10" x2="240.50" y2="502.10" stroke="#1a1a1a" stroke-width="1.2"/>
<text x="236.70" y="505.10" font-size="8.6" font-weight="bold" text-anchor="end" >0.5</text>
<line x1="237.70" y1="510.60" x2="240.50" y2="510.60" stroke="#1a1a1a" stroke-width="1.2"/>
<text x="236.70" y="513.60" font-size="8.6" font-weight="bold" text-anchor="end" >0.0</text>
<rect x="244.10" y="484.90" width="9.40" height="25.70" stroke="#ff0000" stroke-width="1.0" fill="none" stroke-opacity="0.6"/>
<rect x="257.20" y="504.80" width="9.40" height="5.80" stroke="#0000ff" stroke-width="1.0" fill="none" stroke-opacity="0.6"/>
<line x1="240.50" y1="510.60" x2="270.20" y2="510.60" stroke="#1a1a1a" stroke-width="1.2"/>
<line x1="248.90" y1="510.60" x2="248.90" y2="513.60" stroke="#1a1a1a" stroke-width="1.2"/>
<line x1="261.80" y1="510.60" x2="261.80" y2="513.60" stroke="#1a1a1a" stroke-width="1.2"/>
<line x1="248.90" y1="481.50" x2="248.90" y2="489.50" stroke="#ff0000" stroke-width="1"/>
<line x1="246.90" y1="481.50" x2="250.90" y2="481.50" stroke="#ff0000" stroke-width="1"/>
<line x1="246.90" y1="489.50" x2="250.90" y2="489.50" stroke="#ff0000" stroke-width="1"/>
<line x1="261.80" y1="502.50" x2="261.80" y2="507.00" stroke="#0000ff" stroke-width="1"/>
<line x1="259.80" y1="502.50" x2="263.80" y2="502.50" stroke="#0000ff" stroke-width="1"/>
<line x1="259.80" y1="507.00" x2="263.80" y2="507.00" stroke="#0000ff" stroke-width="1"/>
<circle cx="248.90" cy="472.10" r="2.0" stroke="#ff0000" stroke-width="1.1" fill="none"/>
<circle cx="248.90" cy="476.50" r="2.0" stroke="#ff0000" stroke-width="1.1" fill="none"/>
<circle cx="248.90" cy="480.80" r="2.0" stroke="#ff0000" stroke-width="1.1" fill="none"/>
<circle cx="248.90" cy="493.60" r="2.0" stroke="#ff0000" stroke-width="1.1" fill="none"/>
<circle cx="248.90" cy="499.70" r="2.0" stroke="#ff0000" stroke-width="1.1" fill="none"/>
<circle cx="262.00" cy="497.10" r="2.0" stroke="#0000ff" stroke-width="1.1" fill="none"/>
<circle cx="264.90" cy="500.70" r="2.0" stroke="#0000ff" stroke-width="1.1" fill="none"/>
<circle cx="259.10" cy="502.90" r="2.0" stroke="#0000ff" stroke-width="1.1" fill="none"/>
<circle cx="262.00" cy="501.00" r="2.0" stroke="#0000ff" stroke-width="1.1" fill="none"/>
<circle cx="264.90" cy="504.80" r="2.0" stroke="#0000ff" stroke-width="1.1" fill="none"/>
<circle cx="259.10" cy="506.90" r="2.0" stroke="#0000ff" stroke-width="1.1" fill="none"/>
<text transform="translate(220.00,488.00) rotate(-90)" font-size="9.2" font-weight="bold" text-anchor="middle" textLength="81.30" lengthAdjust="spacingAndGlyphs">Donor LSK in PB  (%)</text>
<text transform="translate(251.00,522.00) rotate(-45)" font-size="7.9" font-weight="bold" text-anchor="end">SCR</text>
<text transform="translate(264.00,522.00) rotate(-45)" font-size="7.9" font-weight="bold" text-anchor="end">M-miR-142</text>
<text x="353.50" y="441.40" font-size="10.5" font-weight="bold" textLength="41.60" lengthAdjust="spacingAndGlyphs" >Survival</text>
<line x1="334.90" y1="450.80" x2="342.60" y2="450.80" stroke="#ff0000" stroke-width="1.3"/>
<line x1="338.70" y1="449.00" x2="338.70" y2="450.80" stroke="#ff0000" stroke-width="1"/>
<text x="347.40" y="453.60" font-size="9.2" font-weight="bold" fill="#ff0000" textLength="18.10" lengthAdjust="spacingAndGlyphs" >SCR</text>
<line x1="334.90" y1="461.70" x2="342.60" y2="461.70" stroke="#0000ff" stroke-width="1.3"/>
<line x1="338.70" y1="459.90" x2="338.70" y2="461.70" stroke="#0000ff" stroke-width="1"/>
<text x="347.40" y="464.60" font-size="9.2" font-weight="bold" fill="#0000ff" textLength="43.80" lengthAdjust="spacingAndGlyphs" >M-miR-142</text>
<line x1="394.70" y1="446.40" x2="394.70" y2="464.00" stroke="#1a1a1a" stroke-width="1.2"/>
<text x="396.90" y="458.00" font-size="8.8" font-weight="bold" textLength="32.60" lengthAdjust="spacingAndGlyphs" >P=0.004</text>
<line x1="322.40" y1="468.80" x2="322.40" y2="520.40" stroke="#1a1a1a" stroke-width="1.2"/>
<line x1="319.40" y1="468.80" x2="322.40" y2="468.80" stroke="#1a1a1a" stroke-width="1.2"/>
<text x="318.40" y="471.80" font-size="7.9" font-weight="bold" text-anchor="end" >100</text>
<line x1="319.40" y1="494.60" x2="322.40" y2="494.60" stroke="#1a1a1a" stroke-width="1.2"/>
<text x="318.40" y="497.60" font-size="7.9" font-weight="bold" text-anchor="end" >50</text>
<line x1="319.40" y1="520.40" x2="322.40" y2="520.40" stroke="#1a1a1a" stroke-width="1.2"/>
<text x="318.40" y="523.40" font-size="7.9" font-weight="bold" text-anchor="end" >0</text>
<line x1="322.40" y1="464.00" x2="322.40" y2="469.00" stroke="#1a1a1a" stroke-width="1.2"/>
<line x1="322.40" y1="520.40" x2="425.70" y2="520.40" stroke="#1a1a1a" stroke-width="1.2"/>
<line x1="322.40" y1="520.40" x2="322.40" y2="523.40" stroke="#1a1a1a" stroke-width="1.2"/>
<line x1="343.06" y1="520.40" x2="343.06" y2="523.40" stroke="#1a1a1a" stroke-width="1.2"/>
<line x1="363.72" y1="520.40" x2="363.72" y2="523.40" stroke="#1a1a1a" stroke-width="1.2"/>
<line x1="384.38" y1="520.40" x2="384.38" y2="523.40" stroke="#1a1a1a" stroke-width="1.2"/>
<line x1="405.04" y1="520.40" x2="405.04" y2="523.40" stroke="#1a1a1a" stroke-width="1.2"/>
<line x1="425.70" y1="520.40" x2="425.70" y2="523.40" stroke="#1a1a1a" stroke-width="1.2"/>
<text x="322.40" y="531.90" font-size="8.1" font-weight="bold" text-anchor="middle" >0</text>
<text x="343.06" y="531.90" font-size="8.1" font-weight="bold" text-anchor="middle" >20</text>
<text x="363.72" y="531.90" font-size="8.1" font-weight="bold" text-anchor="middle" >40</text>
<text x="384.38" y="531.90" font-size="8.1" font-weight="bold" text-anchor="middle" >60</text>
<text x="405.04" y="531.90" font-size="8.1" font-weight="bold" text-anchor="middle" >80</text>
<text x="425.70" y="531.90" font-size="8.1" font-weight="bold" text-anchor="middle" >100</text>
<text x="319.60" y="541.70" font-size="8.4" font-weight="bold" textLength="109.90" lengthAdjust="spacingAndGlyphs" >Days after BCR-ABL induction</text>
<text transform="translate(302.50,491.30) rotate(-90)" font-size="8.6" font-weight="bold" text-anchor="middle" textLength="57.00" lengthAdjust="spacingAndGlyphs">Percent survival</text>
<path d="M352.56,468.80 L368.99,468.80 L368.99,471.23 L371.67,471.23 L371.67,474.48 L374.05,474.48 L374.05,476.80 L375.39,476.80 L375.39,480.82 L376.63,480.82 L376.63,484.02 L379.42,484.02 L379.42,488.92 L380.45,488.92 L380.45,492.02 L381.28,492.02 L381.28,496.51 L392.85,496.51 L392.85,499.24 L394.50,499.24 L394.50,501.67 L396.05,501.67 L396.05,504.92 L397.19,504.92 L397.19,508.02 L405.66,508.02 L405.66,512.14 L412.48,512.14 L412.48,516.38 L424.67,516.38 L424.67,520.40" stroke="#0000ff" stroke-width="1.3" fill="none" stroke-linejoin="miter"/>
<path d="M322.40,468.80 L352.56,468.80 L352.56,472.00 L354.22,472.00 L354.22,476.02 L355.97,476.02 L355.97,480.15 L359.17,480.15 L359.17,483.25 L367.34,483.25 L367.34,487.38 L368.16,487.38 L368.16,491.25 L369.50,491.25 L369.50,494.60 L371.05,494.60 L371.05,497.70 L373.84,497.70 L373.84,500.79 L375.39,500.79 L375.39,503.37 L377.05,503.37 L377.05,506.47 L378.60,506.47 L378.60,509.56 L380.76,509.56 L380.76,512.87 L382.31,512.87 L382.31,512.87 L391.51,512.87 L391.51,516.79 L392.64,516.79 L392.64,520.40" stroke="#ff0000" stroke-width="1.3" fill="none" stroke-linejoin="miter"/>
<text x="469.50" y="412.10" font-size="16.5" >h</text>
<text x="513.50" y="416.80" font-size="15.8" font-weight="bold" textLength="134.90" lengthAdjust="spacingAndGlyphs" >2<tspan font-size="10.5" dy="-5.5">nd</tspan><tspan dy="5.5"> transplantation</tspan></text>
<line x1="488.80" y1="424.00" x2="673.40" y2="424.00" stroke="#ff0000" stroke-width="2.0"/>
<text x="484.10" y="437.70" font-size="9.6" font-weight="bold" textLength="65.50" lengthAdjust="spacingAndGlyphs" >Leukemia cells</text>
<text x="485.00" y="448.50" font-size="9.6" font-weight="bold" textLength="63.00" lengthAdjust="spacingAndGlyphs" >in PB at 4 wks</text>
<text x="503.90" y="469.80" font-size="8.4" font-weight="bold" textLength="27.70" lengthAdjust="spacingAndGlyphs" >P=0.005</text>
<line x1="510.20" y1="473.20" x2="525.80" y2="473.20" stroke="#1a1a1a" stroke-width="1.8"/>
<line x1="501.40" y1="471.00" x2="501.40" y2="516.80" stroke="#1a1a1a" stroke-width="1.2"/>
<line x1="498.60" y1="471.00" x2="501.40" y2="471.00" stroke="#1a1a1a" stroke-width="1.2"/>
<text x="497.60" y="474.00" font-size="7.8" font-weight="bold" text-anchor="end" >80</text>
<line x1="498.60" y1="482.50" x2="501.40" y2="482.50" stroke="#1a1a1a" stroke-width="1.2"/>
<text x="497.60" y="485.50" font-size="7.8" font-weight="bold" text-anchor="end" >60</text>
<line x1="498.60" y1="493.90" x2="501.40" y2="493.90" stroke="#1a1a1a" stroke-width="1.2"/>
<text x="497.60" y="496.90" font-size="7.8" font-weight="bold" text-anchor="end" >40</text>
<line x1="498.60" y1="505.30" x2="501.40" y2="505.30" stroke="#1a1a1a" stroke-width="1.2"/>
<text x="497.60" y="508.30" font-size="7.8" font-weight="bold" text-anchor="end" >20</text>
<line x1="498.60" y1="516.80" x2="501.40" y2="516.80" stroke="#1a1a1a" stroke-width="1.2"/>
<text x="497.60" y="519.80" font-size="7.8" font-weight="bold" text-anchor="end" >0</text>
<rect x="505.40" y="496.80" width="9.50" height="20.00" stroke="#ff0000" stroke-width="1.0" fill="none" stroke-opacity="0.6"/>
<rect x="518.20" y="500.20" width="9.40" height="16.60" stroke="#0000ff" stroke-width="1.0" fill="none" stroke-opacity="0.6"/>
<line x1="501.40" y1="516.80" x2="532.10" y2="516.80" stroke="#777" stroke-width="1.6"/>
<line x1="510.00" y1="516.80" x2="510.00" y2="519.80" stroke="#777" stroke-width="1.6"/>
<line x1="522.90" y1="516.80" x2="522.90" y2="519.80" stroke="#777" stroke-width="1.6"/>
<line x1="510.00" y1="494.50" x2="510.00" y2="499.00" stroke="#ff0000" stroke-width="1"/>
<line x1="508.00" y1="494.50" x2="512.00" y2="494.50" stroke="#ff0000" stroke-width="1"/>
<line x1="508.00" y1="499.00" x2="512.00" y2="499.00" stroke="#ff0000" stroke-width="1"/>
<line x1="522.90" y1="498.00" x2="522.90" y2="502.50" stroke="#0000ff" stroke-width="1"/>
<line x1="520.90" y1="498.00" x2="524.90" y2="498.00" stroke="#0000ff" stroke-width="1"/>
<line x1="520.90" y1="502.50" x2="524.90" y2="502.50" stroke="#0000ff" stroke-width="1"/>
<circle cx="510.00" cy="481.80" r="2.0" stroke="#ff0000" stroke-width="1.1" fill="none"/>
<circle cx="510.00" cy="492.90" r="2.0" stroke="#ff0000" stroke-width="1.1" fill="none"/>
<circle cx="507.60" cy="495.80" r="2.0" stroke="#ff0000" stroke-width="1.1" fill="none"/>
<circle cx="511.50" cy="495.50" r="2.0" stroke="#ff0000" stroke-width="1.1" fill="none"/>
<circle cx="513.80" cy="497.30" r="2.0" stroke="#ff0000" stroke-width="1.1" fill="none"/>
<circle cx="507.00" cy="498.50" r="2.0" stroke="#ff0000" stroke-width="1.1" fill="none"/>
<circle cx="510.00" cy="499.50" r="2.0" stroke="#ff0000" stroke-width="1.1" fill="none"/>
<circle cx="512.90" cy="500.00" r="2.0" stroke="#ff0000" stroke-width="1.1" fill="none"/>
<circle cx="508.50" cy="501.50" r="2.0" stroke="#ff0000" stroke-width="1.1" fill="none"/>
<circle cx="511.80" cy="501.90" r="2.0" stroke="#ff0000" stroke-width="1.1" fill="none"/>
<circle cx="525.10" cy="491.40" r="2.0" stroke="#0000ff" stroke-width="1.1" fill="none"/>
<circle cx="521.90" cy="493.90" r="2.0" stroke="#0000ff" stroke-width="1.1" fill="none"/>
<circle cx="520.00" cy="500.20" r="2.0" stroke="#0000ff" stroke-width="1.1" fill="none"/>
<circle cx="522.90" cy="499.70" r="2.0" stroke="#0000ff" stroke-width="1.1" fill="none"/>
<circle cx="526.60" cy="498.70" r="2.0" stroke="#0000ff" stroke-width="1.1" fill="none"/>
<circle cx="523.60" cy="501.20" r="2.0" stroke="#0000ff" stroke-width="1.1" fill="none"/>
<circle cx="526.50" cy="504.90" r="2.0" stroke="#0000ff" stroke-width="1.1" fill="none"/>
<circle cx="520.00" cy="507.80" r="2.0" stroke="#0000ff" stroke-width="1.1" fill="none"/>
<circle cx="522.90" cy="504.90" r="2.0" stroke="#0000ff" stroke-width="1.1" fill="none"/>
<text transform="translate(485.60,492.80) rotate(-90)" font-size="8.2" font-weight="bold" text-anchor="middle" textLength="63.60" lengthAdjust="spacingAndGlyphs">CD45.2<tspan font-size="5.6" dy="-3.1">+</tspan><tspan dy="3.1"> in PB (%)</tspan></text>
<text transform="translate(512.40,525.60) rotate(-45)" font-size="7.3" font-weight="bold" text-anchor="end">SCR</text>
<text transform="translate(525.40,525.60) rotate(-45)" font-size="7.3" font-weight="bold" text-anchor="end">M-miR-142</text>
<text x="605.60" y="438.40" font-size="9.8" font-weight="bold" textLength="36.40" lengthAdjust="spacingAndGlyphs" >Survival</text>
<line x1="584.50" y1="446.40" x2="591.90" y2="446.40" stroke="#ff0000" stroke-width="1.3"/>
<line x1="588.20" y1="444.60" x2="588.20" y2="446.40" stroke="#ff0000" stroke-width="1"/>
<text x="597.20" y="449.60" font-size="8.8" font-weight="bold" fill="#ff0000" textLength="17.30" lengthAdjust="spacingAndGlyphs" >SCR</text>
<line x1="584.50" y1="457.00" x2="591.90" y2="457.00" stroke="#0000ff" stroke-width="1.3"/>
<line x1="588.20" y1="455.20" x2="588.20" y2="457.00" stroke="#0000ff" stroke-width="1"/>
<text x="597.20" y="459.60" font-size="8.8" font-weight="bold" fill="#0000ff" textLength="42.70" lengthAdjust="spacingAndGlyphs" >M-miR-142</text>
<line x1="646.30" y1="444.70" x2="646.30" y2="460.60" stroke="#1a1a1a" stroke-width="1.2"/>
<text x="649.00" y="455.30" font-size="8.6" font-weight="bold" textLength="31.10" lengthAdjust="spacingAndGlyphs" >P=0.013</text>
<line x1="573.20" y1="464.50" x2="573.20" y2="516.40" stroke="#1a1a1a" stroke-width="1.2"/>
<line x1="570.20" y1="464.50" x2="573.20" y2="464.50" stroke="#1a1a1a" stroke-width="1.2"/>
<text x="569.20" y="467.50" font-size="7.9" font-weight="bold" text-anchor="end" >100</text>
<line x1="570.20" y1="490.45" x2="573.20" y2="490.45" stroke="#1a1a1a" stroke-width="1.2"/>
<text x="569.20" y="493.45" font-size="7.9" font-weight="bold" text-anchor="end" >50</text>
<line x1="570.20" y1="516.40" x2="573.20" y2="516.40" stroke="#1a1a1a" stroke-width="1.2"/>
<text x="569.20" y="519.40" font-size="7.9" font-weight="bold" text-anchor="end" >0</text>
<line x1="573.20" y1="459.20" x2="573.20" y2="464.50" stroke="#1a1a1a" stroke-width="1.2"/>
<line x1="573.20" y1="516.40" x2="673.60" y2="516.40" stroke="#1a1a1a" stroke-width="1.2"/>
<line x1="573.20" y1="516.40" x2="573.20" y2="519.40" stroke="#1a1a1a" stroke-width="1.2"/>
<line x1="593.24" y1="516.40" x2="593.24" y2="519.40" stroke="#1a1a1a" stroke-width="1.2"/>
<line x1="613.28" y1="516.40" x2="613.28" y2="519.40" stroke="#1a1a1a" stroke-width="1.2"/>
<line x1="633.32" y1="516.40" x2="633.32" y2="519.40" stroke="#1a1a1a" stroke-width="1.2"/>
<line x1="653.36" y1="516.40" x2="653.36" y2="519.40" stroke="#1a1a1a" stroke-width="1.2"/>
<line x1="673.40" y1="516.40" x2="673.40" y2="519.40" stroke="#1a1a1a" stroke-width="1.2"/>
<text x="573.20" y="527.30" font-size="8.1" font-weight="bold" text-anchor="middle" >0</text>
<text x="593.24" y="527.30" font-size="8.1" font-weight="bold" text-anchor="middle" >20</text>
<text x="613.28" y="527.30" font-size="8.1" font-weight="bold" text-anchor="middle" >40</text>
<text x="633.32" y="527.30" font-size="8.1" font-weight="bold" text-anchor="middle" >60</text>
<text x="653.36" y="527.30" font-size="8.1" font-weight="bold" text-anchor="middle" >80</text>
<text x="673.40" y="527.30" font-size="8.1" font-weight="bold" text-anchor="middle" >100</text>
<text x="578.10" y="537.60" font-size="8.4" font-weight="bold" textLength="91.50" lengthAdjust="spacingAndGlyphs" >Days after transplantation</text>
<text transform="translate(552.60,486.70) rotate(-90)" font-size="8.6" font-weight="bold" text-anchor="middle" textLength="57.10" lengthAdjust="spacingAndGlyphs">Percent survival</text>
<path d="M608.17,464.50 L621.50,464.50 L621.50,469.79 L626.81,469.79 L626.81,475.09 L630.61,475.09 L630.61,480.38 L634.62,480.38 L634.62,485.26 L640.53,485.26 L640.53,490.55 L644.34,490.55 L644.34,495.22 L652.26,495.22 L652.26,500.52 L655.36,500.52 L655.36,505.81 L661.78,505.81 L661.78,511.52 L668.49,511.52 L668.49,516.40" stroke="#0000ff" stroke-width="1.3" fill="none" stroke-linejoin="miter"/>
<path d="M573.20,464.50 L608.17,464.50 L608.17,469.79 L620.39,469.79 L620.39,475.09 L623.60,475.09 L623.60,480.38 L625.70,480.38 L625.70,485.68 L627.21,485.68 L627.21,490.97 L628.51,490.97 L628.51,496.26 L630.01,496.26 L630.01,505.81 L640.53,505.81 L640.53,511.11 L647.95,511.11 L647.95,516.40" stroke="#ff0000" stroke-width="1.3" fill="none" stroke-linejoin="miter"/>
<text x="7.20" y="592.50" font-size="16.5" >i</text>
<text x="20.90" y="624.00" font-size="9.6" font-weight="bold" textLength="46.90" lengthAdjust="spacingAndGlyphs" >10<tspan font-size="6.2" dy="-3.5">6</tspan><tspan dy="3.5">/mouse</tspan></text>
<rect x="6.60" y="630.00" width="73.50" height="29.10" stroke="#1a1a1a" stroke-width="1.7" fill="none" />
<text x="11.00" y="642.40" font-size="8.8" font-weight="bold" textLength="64.90" lengthAdjust="spacingAndGlyphs" >Human BC CML</text>
<text x="19.00" y="651.90" font-size="8.8" font-weight="bold" textLength="48.80" lengthAdjust="spacingAndGlyphs" >CD34+ cells</text>
<path d="M80.7,645.2 L98.5,635.6" stroke="#222" stroke-width="1.9" fill="none" />
<path d="M80.7,645.2 L98.5,655.6" stroke="#222" stroke-width="1.9" fill="none" />
<path d="M101,634.6 L95.6,634.4 L98.2,638.9 Z" fill="#222"/>
<path d="M101,656.8 L95.6,657.0 L98.2,652.5 Z" fill="#222"/>
<text x="85.10" y="613.80" font-size="9.6" font-weight="bold" textLength="58.40" lengthAdjust="spacingAndGlyphs" >CML BC PDX</text>
<text x="101.00" y="625.00" font-size="9.6" font-weight="bold" textLength="25.70" lengthAdjust="spacingAndGlyphs" >NSGS</text>
<g transform="translate(101.75,628.20) scale(0.83)"><path d="M0.3,6.6 C2,4 6,5.2 10.6,8" stroke="#e4a4a0" stroke-width="1.1" fill="none"/><path d="M0.3,6.6 C0.4,8.2 1.8,9.2 3.8,9.6" stroke="#e4a4a0" stroke-width="0.9" fill="none"/><path d="M14.6,15.6 L14.3,19.2 M23.8,14.6 L24.6,17.6 M9.6,14.4 L8.4,15.6" stroke="#e4a4a0" stroke-width="1.5" fill="none"/><path d="M13.4,19.4 L16,19.4 M23.6,17.8 L26.2,17.8" stroke="#e4a4a0" stroke-width="1.0" fill="none"/><path d="M10,9.5 C10,5 14,3 18.5,3.2 C21,2.2 24,2 26.5,3.2 C28.5,4.2 30.2,5.5 30.5,6.8 C30.2,8 28.8,9 27.6,10.6 C26.5,13.5 24.5,15.5 20.5,16.3 C16.5,17 11.5,16 10.3,12.5 Z" fill="#eeeae8" stroke="#d4c4bf" stroke-width="0.6"/><ellipse cx="18.6" cy="3.6" rx="2.5" ry="3.1" fill="#e4a4a0"/><path d="M23.8,4.2 L25.2,0.4 L28.2,3.6 Z" fill="#eeeae8" stroke="#d4c4bf" stroke-width="0.5"/><circle cx="23.4" cy="5.4" r="0.75" fill="#b03040"/><circle cx="30.3" cy="6.9" r="0.6" fill="#e4a4a0"/></g>
<g transform="translate(101.75,645.80) scale(0.83)"><path d="M0.3,6.6 C2,4 6,5.2 10.6,8" stroke="#e4a4a0" stroke-width="1.1" fill="none"/><path d="M0.3,6.6 C0.4,8.2 1.8,9.2 3.8,9.6" stroke="#e4a4a0" stroke-width="0.9" fill="none"/><path d="M14.6,15.6 L14.3,19.2 M23.8,14.6 L24.6,17.6 M9.6,14.4 L8.4,15.6" stroke="#e4a4a0" stroke-width="1.5" fill="none"/><path d="M13.4,19.4 L16,19.4 M23.6,17.8 L26.2,17.8" stroke="#e4a4a0" stroke-width="1.0" fill="none"/><path d="M10,9.5 C10,5 14,3 18.5,3.2 C21,2.2 24,2 26.5,3.2 C28.5,4.2 30.2,5.5 30.5,6.8 C30.2,8 28.8,9 27.6,10.6 C26.5,13.5 24.5,15.5 20.5,16.3 C16.5,17 11.5,16 10.3,12.5 Z" fill="#eeeae8" stroke="#d4c4bf" stroke-width="0.6"/><ellipse cx="18.6" cy="3.6" rx="2.5" ry="3.1" fill="#e4a4a0"/><path d="M23.8,4.2 L25.2,0.4 L28.2,3.6 Z" fill="#eeeae8" stroke="#d4c4bf" stroke-width="0.5"/><circle cx="23.4" cy="5.4" r="0.75" fill="#b03040"/><circle cx="30.3" cy="6.9" r="0.6" fill="#e4a4a0"/></g>
<rect x="175.80" y="606.80" width="35.50" height="12.40" stroke="#1a1a1a" stroke-width="1.2" fill="none" />
<text x="179.30" y="615.90" font-size="8.8" font-weight="bold" textLength="29.20" lengthAdjust="spacingAndGlyphs" >day 15</text>
<text x="129.50" y="627.80" font-size="9.5" font-weight="bold" fill="#0000ff" textLength="48.60" lengthAdjust="spacingAndGlyphs" >M-miR-142</text>
<text x="133.70" y="642.60" font-size="9.2" font-weight="bold" fill="#1b8a4a" textLength="45.60" lengthAdjust="spacingAndGlyphs" >10<tspan font-size="6.6" dy="-3.4">6</tspan><tspan dy="3.4"> T cells</tspan></text>
<text x="144.20" y="651.90" font-size="9.6" font-weight="bold" fill="#ff0000" textLength="20.40" lengthAdjust="spacingAndGlyphs" >SCR</text>
<text x="135.40" y="667.10" font-size="9.2" font-weight="bold" fill="#1b8a4a" textLength="45.60" lengthAdjust="spacingAndGlyphs" >10<tspan font-size="6.6" dy="-3.4">6</tspan><tspan dy="3.4"> T cells</tspan></text>
<line x1="131.90" y1="632.40" x2="310.30" y2="632.40" stroke="#222" stroke-width="2.0"/>
<path d="M309.80,630.20 L313.80,632.40 L309.80,634.60 Z" fill="#222"/>
<line x1="131.90" y1="655.00" x2="310.30" y2="655.00" stroke="#222" stroke-width="2.0"/>
<path d="M309.80,652.80 L313.80,655.00 L309.80,657.20 Z" fill="#222"/>
<path d="M192.80,622.50 L192.80,628.40 M189.85,623.80 L192.80,628.40 L195.75,623.80 M198.73,622.50 L198.73,628.40 M195.78,623.80 L198.73,628.40 L201.68,623.80 M204.66,622.50 L204.66,628.40 M201.71,623.80 L204.66,628.40 L207.61,623.80 M210.59,622.50 L210.59,628.40 M207.64,623.80 L210.59,628.40 L213.54,623.80 M216.52,622.50 L216.52,628.40 M213.57,623.80 L216.52,628.40 L219.47,623.80 M222.45,622.50 L222.45,628.40 M219.50,623.80 L222.45,628.40 L225.40,623.80 " stroke="#0000ff" stroke-width="1.0" fill="none" stroke-linejoin="miter"/>
<path d="M192.80,646.50 L192.80,652.20 M189.85,647.60 L192.80,652.20 L195.75,647.60 M198.73,646.50 L198.73,652.20 M195.78,647.60 L198.73,652.20 L201.68,647.60 M204.66,646.50 L204.66,652.20 M201.71,647.60 L204.66,652.20 L207.61,647.60 M210.59,646.50 L210.59,652.20 M207.64,647.60 L210.59,652.20 L213.54,647.60 M216.52,646.50 L216.52,652.20 M213.57,647.60 L216.52,652.20 L219.47,647.60 M222.45,646.50 L222.45,652.20 M219.50,647.60 L222.45,652.20 L225.40,647.60 " stroke="#ff0000" stroke-width="1.0" fill="none" stroke-linejoin="miter"/>
<path d="M234.00,622.50 L234.00,628.40 M231.05,623.80 L234.00,628.40 L236.95,623.80 M239.93,622.50 L239.93,628.40 M236.98,623.80 L239.93,628.40 L242.88,623.80 M245.86,622.50 L245.86,628.40 M242.91,623.80 L245.86,628.40 L248.81,623.80 M251.79,622.50 L251.79,628.40 M248.84,623.80 L251.79,628.40 L254.74,623.80 M257.72,622.50 L257.72,628.40 M254.77,623.80 L257.72,628.40 L260.67,623.80 M263.65,622.50 L263.65,628.40 M260.70,623.80 L263.65,628.40 L266.60,623.80 " stroke="#0000ff" stroke-width="1.0" fill="none" stroke-linejoin="miter"/>
<path d="M234.00,646.50 L234.00,652.20 M231.05,647.60 L234.00,652.20 L236.95,647.60 M239.93,646.50 L239.93,652.20 M236.98,647.60 L239.93,652.20 L242.88,647.60 M245.86,646.50 L245.86,652.20 M242.91,647.60 L245.86,652.20 L248.81,647.60 M251.79,646.50 L251.79,652.20 M248.84,647.60 L251.79,652.20 L254.74,647.60 M257.72,646.50 L257.72,652.20 M254.77,647.60 L257.72,652.20 L260.67,647.60 M263.65,646.50 L263.65,652.20 M260.70,647.60 L263.65,652.20 L266.60,647.60 " stroke="#ff0000" stroke-width="1.0" fill="none" stroke-linejoin="miter"/>
<path d="M276.00,622.50 L276.00,628.40 M273.05,623.80 L276.00,628.40 L278.95,623.80 M281.93,622.50 L281.93,628.40 M278.98,623.80 L281.93,628.40 L284.88,623.80 M287.86,622.50 L287.86,628.40 M284.91,623.80 L287.86,628.40 L290.81,623.80 M293.79,622.50 L293.79,628.40 M290.84,623.80 L293.79,628.40 L296.74,623.80 M299.72,622.50 L299.72,628.40 M296.77,623.80 L299.72,628.40 L302.67,623.80 M305.65,622.50 L305.65,628.40 M302.70,623.80 L305.65,628.40 L308.60,623.80 " stroke="#0000ff" stroke-width="1.0" fill="none" stroke-linejoin="miter"/>
<path d="M276.00,646.50 L276.00,652.20 M273.05,647.60 L276.00,652.20 L278.95,647.60 M281.93,646.50 L281.93,652.20 M278.98,647.60 L281.93,652.20 L284.88,647.60 M287.86,646.50 L287.86,652.20 M284.91,647.60 L287.86,652.20 L290.81,647.60 M293.79,646.50 L293.79,652.20 M290.84,647.60 L293.79,652.20 L296.74,647.60 M299.72,646.50 L299.72,652.20 M296.77,647.60 L299.72,652.20 L302.67,647.60 M305.65,646.50 L305.65,652.20 M302.70,647.60 L305.65,652.20 L308.60,647.60 " stroke="#ff0000" stroke-width="1.0" fill="none" stroke-linejoin="miter"/>
<path d="M189.40,643.50 L189.40,634.50 M186.10,638.70 L189.40,634.50 L192.70,638.70" stroke="#1b8a4a" stroke-width="1.7" fill="none" />
<path d="M189.40,667.80 L189.40,659.00 M186.10,663.20 L189.40,659.00 L192.70,663.20" stroke="#1b8a4a" stroke-width="1.7" fill="none" />
<path d="M231.90,643.50 L231.90,634.50 M228.60,638.70 L231.90,634.50 L235.20,638.70" stroke="#1b8a4a" stroke-width="1.7" fill="none" />
<path d="M231.90,667.80 L231.90,659.00 M228.60,663.20 L231.90,659.00 L235.20,663.20" stroke="#1b8a4a" stroke-width="1.7" fill="none" />
<rect x="315.70" y="615.80" width="163.90" height="49.20" stroke="#1a1a1a" stroke-width="1.6" fill="none" />
<text x="318.90" y="626.60" font-size="8.6" font-weight="bold" textLength="94.00" lengthAdjust="spacingAndGlyphs" >Leukemia engraftment</text>
<text x="318.90" y="636.60" font-size="8.6" font-weight="bold" >Human T</text>
<text x="318.90" y="647.40" font-size="8.6" font-weight="bold" >Survival</text>
<text x="318.90" y="657.70" font-size="8.6" font-weight="bold" textLength="159.30" lengthAdjust="spacingAndGlyphs" >2<tspan font-size="5.8" dy="-3.3">nd</tspan><tspan dy="3.3"> transplant of BM (after T depletion)</tspan></text>
<text x="474.30" y="563.80" font-size="16.5" >j</text>
<text x="581.40" y="569.20" font-size="14" font-weight="bold" textLength="39.90" lengthAdjust="spacingAndGlyphs" >PDX-1</text>
<line x1="528.10" y1="574.20" x2="679.70" y2="574.20" stroke="#ff0000" stroke-width="2.0"/>
<text x="524.00" y="589.90" font-size="10" font-weight="bold" textLength="41.70" lengthAdjust="spacingAndGlyphs" >Human T</text>
<text x="531.80" y="602.10" font-size="10" font-weight="bold" textLength="26.70" lengthAdjust="spacingAndGlyphs" >in BM</text>
<text x="609.70" y="589.90" font-size="10" font-weight="bold" textLength="71.20" lengthAdjust="spacingAndGlyphs" >Leukemic cells</text>
<text x="631.60" y="602.10" font-size="10" font-weight="bold" textLength="26.70" lengthAdjust="spacingAndGlyphs" >in BM</text>
<text x="532.30" y="613.10" font-size="8.4" fill="#333" textLength="24.30" lengthAdjust="spacingAndGlyphs" >P=0.09</text>
<line x1="532.80" y1="617.50" x2="556.20" y2="617.50" stroke="#1a1a1a" stroke-width="1.8"/>
<line x1="518.20" y1="616.40" x2="518.20" y2="668.60" stroke="#1a1a1a" stroke-width="1.2"/>
<line x1="515.70" y1="616.40" x2="518.20" y2="616.40" stroke="#1a1a1a" stroke-width="1.2"/>
<text x="514.70" y="619.40" font-size="7.6" font-weight="bold" text-anchor="end" >10</text>
<line x1="515.70" y1="627.00" x2="518.20" y2="627.00" stroke="#1a1a1a" stroke-width="1.2"/>
<text x="514.70" y="630.00" font-size="7.6" font-weight="bold" text-anchor="end" >8</text>
<line x1="515.70" y1="637.50" x2="518.20" y2="637.50" stroke="#1a1a1a" stroke-width="1.2"/>
<text x="514.70" y="640.50" font-size="7.6" font-weight="bold" text-anchor="end" >6</text>
<line x1="515.70" y1="647.90" x2="518.20" y2="647.90" stroke="#1a1a1a" stroke-width="1.2"/>
<text x="514.70" y="650.90" font-size="7.6" font-weight="bold" text-anchor="end" >4</text>
<line x1="515.70" y1="658.40" x2="518.20" y2="658.40" stroke="#1a1a1a" stroke-width="1.2"/>
<text x="514.70" y="661.40" font-size="7.6" font-weight="bold" text-anchor="end" >2</text>
<line x1="515.70" y1="668.60" x2="518.20" y2="668.60" stroke="#1a1a1a" stroke-width="1.2"/>
<text x="514.70" y="671.60" font-size="7.6" font-weight="bold" text-anchor="end" >0</text>
<rect x="526.40" y="657.40" width="14.20" height="11.20" stroke="#ff0000" stroke-width="1.0" fill="none" stroke-opacity="0.6"/>
<rect x="548.60" y="648.20" width="15.00" height="20.40" stroke="#0000ff" stroke-width="1.0" fill="none" stroke-opacity="0.6"/>
<line x1="518.20" y1="668.60" x2="571.20" y2="668.60" stroke="#1a1a1a" stroke-width="1.2"/>
<line x1="533.60" y1="668.60" x2="533.60" y2="671.60" stroke="#1a1a1a" stroke-width="1.2"/>
<line x1="555.90" y1="668.60" x2="555.90" y2="671.60" stroke="#1a1a1a" stroke-width="1.2"/>
<line x1="533.60" y1="656.20" x2="533.60" y2="663.50" stroke="#ff0000" stroke-width="1"/>
<line x1="531.40" y1="656.20" x2="535.80" y2="656.20" stroke="#ff0000" stroke-width="1"/>
<line x1="531.40" y1="663.50" x2="535.80" y2="663.50" stroke="#ff0000" stroke-width="1"/>
<line x1="555.90" y1="643.50" x2="555.90" y2="657.50" stroke="#0000ff" stroke-width="1"/>
<line x1="553.70" y1="643.50" x2="558.10" y2="643.50" stroke="#0000ff" stroke-width="1"/>
<line x1="553.70" y1="657.50" x2="558.10" y2="657.50" stroke="#0000ff" stroke-width="1"/>
<line x1="531.50" y1="659.90" x2="535.70" y2="659.90" stroke="#ff0000" stroke-width="1"/>
<line x1="553.50" y1="652.00" x2="558.30" y2="652.00" stroke="#0000ff" stroke-width="1"/>
<circle cx="527.45" cy="650.80" r="2.0" stroke="#ff0000" stroke-width="1.1" fill="none"/>
<circle cx="530.36" cy="652.26" r="2.0" stroke="#ff0000" stroke-width="1.1" fill="none"/>
<circle cx="533.28" cy="652.26" r="2.0" stroke="#ff0000" stroke-width="1.1" fill="none"/>
<circle cx="536.20" cy="651.82" r="2.0" stroke="#ff0000" stroke-width="1.1" fill="none"/>
<circle cx="539.56" cy="650.36" r="2.0" stroke="#ff0000" stroke-width="1.1" fill="none"/>
<circle cx="534.01" cy="656.64" r="2.0" stroke="#ff0000" stroke-width="1.1" fill="none"/>
<circle cx="536.20" cy="656.93" r="2.0" stroke="#ff0000" stroke-width="1.1" fill="none"/>
<circle cx="531.82" cy="659.85" r="2.0" stroke="#ff0000" stroke-width="1.1" fill="none"/>
<circle cx="534.01" cy="661.31" r="2.0" stroke="#ff0000" stroke-width="1.1" fill="none"/>
<circle cx="535.47" cy="664.23" r="2.0" stroke="#ff0000" stroke-width="1.1" fill="none"/>
<circle cx="531.82" cy="667.45" r="2.0" stroke="#ff0000" stroke-width="1.1" fill="none"/>
<circle cx="535.47" cy="667.45" r="2.0" stroke="#ff0000" stroke-width="1.1" fill="none"/>
<circle cx="531.82" cy="668.91" r="2.0" stroke="#ff0000" stroke-width="1.1" fill="none"/>
<circle cx="555.91" cy="621.61" r="2.0" stroke="#0000ff" stroke-width="1.1" fill="none"/>
<circle cx="555.91" cy="625.55" r="2.0" stroke="#0000ff" stroke-width="1.1" fill="none"/>
<circle cx="555.91" cy="647.45" r="2.0" stroke="#0000ff" stroke-width="1.1" fill="none"/>
<circle cx="562.04" cy="645.99" r="2.0" stroke="#0000ff" stroke-width="1.1" fill="none"/>
<circle cx="550.36" cy="650.36" r="2.0" stroke="#0000ff" stroke-width="1.1" fill="none"/>
<circle cx="553.28" cy="651.82" r="2.0" stroke="#0000ff" stroke-width="1.1" fill="none"/>
<circle cx="559.56" cy="651.39" r="2.0" stroke="#0000ff" stroke-width="1.1" fill="none"/>
<circle cx="555.91" cy="656.93" r="2.0" stroke="#0000ff" stroke-width="1.1" fill="none"/>
<circle cx="550.36" cy="657.66" r="2.0" stroke="#0000ff" stroke-width="1.1" fill="none"/>
<circle cx="562.04" cy="659.12" r="2.0" stroke="#0000ff" stroke-width="1.1" fill="none"/>
<circle cx="550.36" cy="661.31" r="2.0" stroke="#0000ff" stroke-width="1.1" fill="none"/>
<text transform="translate(494.00,642.70) rotate(-90)" font-size="8.8" font-weight="bold" text-anchor="middle" textLength="49.00" lengthAdjust="spacingAndGlyphs">hCD3+ in BM</text>
<text transform="translate(504.60,642.40) rotate(-90)" font-size="8.8" font-weight="bold" text-anchor="middle" textLength="46.70" lengthAdjust="spacingAndGlyphs">(x10<tspan font-size="5.8" dy="-3.2">4</tspan><tspan dy="3.2">/femur)</tspan></text>
<text transform="translate(536.20,680.00) rotate(-45)" font-size="7.9" font-weight="bold" text-anchor="end">T+SCR</text>
<text transform="translate(559.00,680.00) rotate(-45)" font-size="7.9" font-weight="bold" text-anchor="end">T+M-miR-142</text>
<text x="638.80" y="609.30" font-size="8.4" fill="#333" textLength="33.90" lengthAdjust="spacingAndGlyphs" >P=0.0008</text>
<line x1="635.10" y1="611.80" x2="672.70" y2="611.80" stroke="#1a1a1a" stroke-width="1.4"/>
<text x="619.00" y="619.30" font-size="8.4" fill="#333" textLength="24.90" lengthAdjust="spacingAndGlyphs" >P=0.27</text>
<line x1="620.00" y1="621.50" x2="638.80" y2="621.50" stroke="#1a1a1a" stroke-width="1.4"/>
<text x="648.10" y="626.10" font-size="8.4" fill="#333" textLength="32.70" lengthAdjust="spacingAndGlyphs" >P=0.0141</text>
<line x1="653.10" y1="628.60" x2="672.40" y2="628.60" stroke="#1a1a1a" stroke-width="1.4"/>
<line x1="609.40" y1="621.90" x2="609.40" y2="670.50" stroke="#1a1a1a" stroke-width="1.2"/>
<line x1="606.90" y1="621.90" x2="609.40" y2="621.90" stroke="#1a1a1a" stroke-width="1.2"/>
<text x="605.90" y="624.90" font-size="8.2" font-weight="bold" text-anchor="end" >100</text>
<line x1="606.90" y1="631.62" x2="609.40" y2="631.62" stroke="#1a1a1a" stroke-width="1.2"/>
<text x="605.90" y="634.62" font-size="8.2" font-weight="bold" text-anchor="end" >80</text>
<line x1="606.90" y1="641.34" x2="609.40" y2="641.34" stroke="#1a1a1a" stroke-width="1.2"/>
<text x="605.90" y="644.34" font-size="8.2" font-weight="bold" text-anchor="end" >60</text>
<line x1="606.90" y1="651.06" x2="609.40" y2="651.06" stroke="#1a1a1a" stroke-width="1.2"/>
<text x="605.90" y="654.06" font-size="8.2" font-weight="bold" text-anchor="end" >40</text>
<line x1="606.90" y1="660.78" x2="609.40" y2="660.78" stroke="#1a1a1a" stroke-width="1.2"/>
<text x="605.90" y="663.78" font-size="8.2" font-weight="bold" text-anchor="end" >20</text>
<line x1="606.90" y1="670.50" x2="609.40" y2="670.50" stroke="#1a1a1a" stroke-width="1.2"/>
<text x="605.90" y="673.50" font-size="8.2" font-weight="bold" text-anchor="end" >0</text>
<rect x="614.20" y="629.20" width="11.70" height="41.30" stroke="#222" stroke-width="1.0" fill="none" stroke-opacity="0.6"/>
<rect x="631.00" y="632.80" width="11.80" height="37.70" stroke="#2aa0b8" stroke-width="1.0" fill="none" stroke-opacity="0.6"/>
<rect x="647.80" y="635.00" width="12.00" height="35.50" stroke="#ff0000" stroke-width="1.0" fill="none" stroke-opacity="0.6"/>
<rect x="664.40" y="647.80" width="11.80" height="22.70" stroke="#0000ff" stroke-width="1.0" fill="none" stroke-opacity="0.6"/>
<line x1="609.40" y1="670.50" x2="681.60" y2="670.50" stroke="#1a1a1a" stroke-width="1.2"/>
<line x1="620.00" y1="670.50" x2="620.00" y2="673.50" stroke="#1a1a1a" stroke-width="1.2"/>
<line x1="637.10" y1="670.50" x2="637.10" y2="673.50" stroke="#1a1a1a" stroke-width="1.2"/>
<line x1="653.40" y1="670.50" x2="653.40" y2="673.50" stroke="#1a1a1a" stroke-width="1.2"/>
<line x1="670.40" y1="670.50" x2="670.40" y2="673.50" stroke="#1a1a1a" stroke-width="1.2"/>
<line x1="620.00" y1="628.22" x2="620.00" y2="633.56" stroke="#222" stroke-width="1"/>
<line x1="617.80" y1="628.22" x2="622.20" y2="628.22" stroke="#222" stroke-width="1"/>
<line x1="617.80" y1="633.56" x2="622.20" y2="633.56" stroke="#222" stroke-width="1"/>
<line x1="637.10" y1="632.59" x2="637.10" y2="637.45" stroke="#2aa0b8" stroke-width="1"/>
<line x1="634.90" y1="632.59" x2="639.30" y2="632.59" stroke="#2aa0b8" stroke-width="1"/>
<line x1="634.90" y1="637.45" x2="639.30" y2="637.45" stroke="#2aa0b8" stroke-width="1"/>
<line x1="653.40" y1="636.48" x2="653.40" y2="640.85" stroke="#ff0000" stroke-width="1"/>
<line x1="651.20" y1="636.48" x2="655.60" y2="636.48" stroke="#ff0000" stroke-width="1"/>
<line x1="651.20" y1="640.85" x2="655.60" y2="640.85" stroke="#ff0000" stroke-width="1"/>
<line x1="670.30" y1="641.80" x2="670.30" y2="658.20" stroke="#0000ff" stroke-width="1"/>
<line x1="668.10" y1="641.80" x2="672.50" y2="641.80" stroke="#0000ff" stroke-width="1"/>
<line x1="668.10" y1="658.20" x2="672.50" y2="658.20" stroke="#0000ff" stroke-width="1"/>
<circle cx="616.57" cy="628.69" r="2.0" stroke="#222" stroke-width="1.1" fill="none"/>
<circle cx="620.40" cy="625.95" r="2.0" stroke="#222" stroke-width="1.1" fill="none"/>
<circle cx="622.59" cy="625.40" r="2.0" stroke="#222" stroke-width="1.1" fill="none"/>
<circle cx="624.23" cy="628.69" r="2.0" stroke="#222" stroke-width="1.1" fill="none"/>
<circle cx="616.57" cy="629.78" r="2.0" stroke="#222" stroke-width="1.1" fill="none"/>
<circle cx="620.40" cy="630.33" r="2.0" stroke="#222" stroke-width="1.1" fill="none"/>
<circle cx="623.69" cy="629.23" r="2.0" stroke="#222" stroke-width="1.1" fill="none"/>
<circle cx="618.21" cy="631.97" r="2.0" stroke="#222" stroke-width="1.1" fill="none"/>
<circle cx="620.40" cy="632.52" r="2.0" stroke="#222" stroke-width="1.1" fill="none"/>
<circle cx="618.76" cy="634.71" r="2.0" stroke="#222" stroke-width="1.1" fill="none"/>
<circle cx="620.40" cy="635.80" r="2.0" stroke="#222" stroke-width="1.1" fill="none"/>
<circle cx="620.40" cy="639.96" r="2.0" stroke="#222" stroke-width="1.1" fill="none"/>
<circle cx="635.73" cy="629.23" r="2.0" stroke="#2aa0b8" stroke-width="1.1" fill="none"/>
<circle cx="641.21" cy="629.78" r="2.0" stroke="#2aa0b8" stroke-width="1.1" fill="none"/>
<circle cx="632.99" cy="631.42" r="2.0" stroke="#2aa0b8" stroke-width="1.1" fill="none"/>
<circle cx="635.73" cy="631.97" r="2.0" stroke="#2aa0b8" stroke-width="1.1" fill="none"/>
<circle cx="632.99" cy="634.71" r="2.0" stroke="#2aa0b8" stroke-width="1.1" fill="none"/>
<circle cx="635.73" cy="634.71" r="2.0" stroke="#2aa0b8" stroke-width="1.1" fill="none"/>
<circle cx="641.21" cy="634.71" r="2.0" stroke="#2aa0b8" stroke-width="1.1" fill="none"/>
<circle cx="632.99" cy="638.54" r="2.0" stroke="#2aa0b8" stroke-width="1.1" fill="none"/>
<circle cx="638.47" cy="637.99" r="2.0" stroke="#2aa0b8" stroke-width="1.1" fill="none"/>
<circle cx="641.21" cy="639.64" r="2.0" stroke="#2aa0b8" stroke-width="1.1" fill="none"/>
<circle cx="632.99" cy="642.92" r="2.0" stroke="#2aa0b8" stroke-width="1.1" fill="none"/>
<circle cx="637.92" cy="641.83" r="2.0" stroke="#2aa0b8" stroke-width="1.1" fill="none"/>
<circle cx="649.42" cy="633.61" r="2.0" stroke="#ff0000" stroke-width="1.1" fill="none"/>
<circle cx="657.63" cy="633.07" r="2.0" stroke="#ff0000" stroke-width="1.1" fill="none"/>
<circle cx="652.15" cy="636.90" r="2.0" stroke="#ff0000" stroke-width="1.1" fill="none"/>
<circle cx="654.89" cy="636.35" r="2.0" stroke="#ff0000" stroke-width="1.1" fill="none"/>
<circle cx="649.42" cy="639.64" r="2.0" stroke="#ff0000" stroke-width="1.1" fill="none"/>
<circle cx="652.15" cy="640.18" r="2.0" stroke="#ff0000" stroke-width="1.1" fill="none"/>
<circle cx="654.89" cy="640.18" r="2.0" stroke="#ff0000" stroke-width="1.1" fill="none"/>
<circle cx="658.18" cy="640.18" r="2.0" stroke="#ff0000" stroke-width="1.1" fill="none"/>
<circle cx="649.42" cy="642.92" r="2.0" stroke="#ff0000" stroke-width="1.1" fill="none"/>
<circle cx="654.89" cy="643.47" r="2.0" stroke="#ff0000" stroke-width="1.1" fill="none"/>
<circle cx="666.94" cy="639.64" r="2.0" stroke="#0000ff" stroke-width="1.1" fill="none"/>
<circle cx="670.22" cy="638.54" r="2.0" stroke="#0000ff" stroke-width="1.1" fill="none"/>
<circle cx="674.60" cy="640.18" r="2.0" stroke="#0000ff" stroke-width="1.1" fill="none"/>
<circle cx="670.22" cy="641.83" r="2.0" stroke="#0000ff" stroke-width="1.1" fill="none"/>
<circle cx="666.94" cy="643.47" r="2.0" stroke="#0000ff" stroke-width="1.1" fill="none"/>
<circle cx="674.60" cy="644.02" r="2.0" stroke="#0000ff" stroke-width="1.1" fill="none"/>
<circle cx="670.22" cy="646.75" r="2.0" stroke="#0000ff" stroke-width="1.1" fill="none"/>
<circle cx="675.15" cy="647.85" r="2.0" stroke="#0000ff" stroke-width="1.1" fill="none"/>
<circle cx="670.22" cy="651.68" r="2.0" stroke="#0000ff" stroke-width="1.1" fill="none"/>
<circle cx="669.67" cy="662.08" r="2.0" stroke="#0000ff" stroke-width="1.1" fill="none"/>
<circle cx="670.22" cy="668.65" r="2.0" stroke="#0000ff" stroke-width="1.1" fill="none"/>
<text transform="translate(579.70,646.20) rotate(-90)" font-size="8.8" font-weight="bold" text-anchor="middle" textLength="45.40" lengthAdjust="spacingAndGlyphs">hCD3<tspan font-size="5.8" dy="-3.2">-</tspan><tspan dy="3.2">CD45</tspan><tspan font-size="5.8" dy="-3.2">+</tspan></text>
<text transform="translate(588.40,644.90) rotate(-90)" font-size="8.8" font-weight="bold" text-anchor="middle" textLength="34.40" lengthAdjust="spacingAndGlyphs">in BM (%)</text>
<text transform="translate(623.00,680.30) rotate(-45)" font-size="8.0" font-weight="bold" text-anchor="end">SCR</text>
<text transform="translate(639.50,680.30) rotate(-45)" font-size="8.0" font-weight="bold" text-anchor="end">M-miR-142</text>
<text transform="translate(656.50,680.30) rotate(-45)" font-size="8.0" font-weight="bold" text-anchor="end">T+SCR</text>
<text transform="translate(672.50,680.30) rotate(-45)" font-size="8.0" font-weight="bold" text-anchor="end">T+M-miR-142</text>
<text x="11.50" y="730.70" font-size="16.5" >k</text>
<text x="174.90" y="732.00" font-size="13.5" font-weight="bold" textLength="40.90" lengthAdjust="spacingAndGlyphs" >PDX-2</text>
<line x1="25.90" y1="740.00" x2="377.20" y2="740.00" stroke="#ff0000" stroke-width="2.0"/>
<text x="36.80" y="756.90" font-size="10.3" font-weight="bold" textLength="49.00" lengthAdjust="spacingAndGlyphs" >Human T</text>
<text x="47.00" y="770.10" font-size="10.3" font-weight="bold" textLength="28.30" lengthAdjust="spacingAndGlyphs" >in PB</text>
<text x="42.60" y="785.00" font-size="8.6" fill="#333" textLength="38.30" lengthAdjust="spacingAndGlyphs" >P=0.0192</text>
<line x1="49.60" y1="790.20" x2="73.60" y2="790.20" stroke="#1a1a1a" stroke-width="1.8"/>
<line x1="36.50" y1="785.20" x2="36.50" y2="838.80" stroke="#1a1a1a" stroke-width="1.2"/>
<line x1="33.70" y1="785.20" x2="36.50" y2="785.20" stroke="#1a1a1a" stroke-width="1.2"/>
<text x="32.70" y="788.20" font-size="8.8" font-weight="bold" text-anchor="end" >15</text>
<line x1="33.70" y1="803.00" x2="36.50" y2="803.00" stroke="#1a1a1a" stroke-width="1.2"/>
<text x="32.70" y="806.00" font-size="8.8" font-weight="bold" text-anchor="end" >10</text>
<line x1="33.70" y1="821.00" x2="36.50" y2="821.00" stroke="#1a1a1a" stroke-width="1.2"/>
<text x="32.70" y="824.00" font-size="8.8" font-weight="bold" text-anchor="end" >5</text>
<line x1="33.70" y1="838.80" x2="36.50" y2="838.80" stroke="#1a1a1a" stroke-width="1.2"/>
<text x="32.70" y="841.80" font-size="8.8" font-weight="bold" text-anchor="end" >0</text>
<rect x="43.80" y="825.40" width="13.90" height="13.40" stroke="#ff0000" stroke-width="1.0" fill="none" stroke-opacity="0.6"/>
<rect x="64.20" y="813.70" width="14.60" height="25.10" stroke="#0000ff" stroke-width="1.0" fill="none" stroke-opacity="0.6"/>
<line x1="36.50" y1="838.80" x2="85.40" y2="838.80" stroke="#1a1a1a" stroke-width="1.2"/>
<line x1="50.40" y1="838.80" x2="50.40" y2="841.80" stroke="#1a1a1a" stroke-width="1.2"/>
<line x1="71.50" y1="838.80" x2="71.50" y2="841.80" stroke="#1a1a1a" stroke-width="1.2"/>
<line x1="50.40" y1="822.50" x2="50.40" y2="828.50" stroke="#ff0000" stroke-width="1"/>
<line x1="48.20" y1="822.50" x2="52.60" y2="822.50" stroke="#ff0000" stroke-width="1"/>
<line x1="48.20" y1="828.50" x2="52.60" y2="828.50" stroke="#ff0000" stroke-width="1"/>
<line x1="71.50" y1="810.50" x2="71.50" y2="817.00" stroke="#0000ff" stroke-width="1"/>
<line x1="69.30" y1="810.50" x2="73.70" y2="810.50" stroke="#0000ff" stroke-width="1"/>
<line x1="69.30" y1="817.00" x2="73.70" y2="817.00" stroke="#0000ff" stroke-width="1"/>
<circle cx="48.89" cy="811.34" r="2.0" stroke="#ff0000" stroke-width="1.1" fill="none"/>
<circle cx="52.26" cy="812.57" r="2.0" stroke="#ff0000" stroke-width="1.1" fill="none"/>
<circle cx="52.26" cy="819.74" r="2.0" stroke="#ff0000" stroke-width="1.1" fill="none"/>
<circle cx="55.63" cy="819.01" r="2.0" stroke="#ff0000" stroke-width="1.1" fill="none"/>
<circle cx="45.52" cy="822.99" r="2.0" stroke="#ff0000" stroke-width="1.1" fill="none"/>
<circle cx="48.89" cy="824.22" r="2.0" stroke="#ff0000" stroke-width="1.1" fill="none"/>
<circle cx="55.63" cy="823.61" r="2.0" stroke="#ff0000" stroke-width="1.1" fill="none"/>
<circle cx="52.26" cy="825.44" r="2.0" stroke="#ff0000" stroke-width="1.1" fill="none"/>
<circle cx="48.89" cy="828.51" r="2.0" stroke="#ff0000" stroke-width="1.1" fill="none"/>
<circle cx="45.52" cy="828.51" r="2.0" stroke="#ff0000" stroke-width="1.1" fill="none"/>
<circle cx="45.52" cy="832.50" r="2.0" stroke="#ff0000" stroke-width="1.1" fill="none"/>
<circle cx="48.89" cy="832.50" r="2.0" stroke="#ff0000" stroke-width="1.1" fill="none"/>
<circle cx="55.63" cy="834.33" r="2.0" stroke="#ff0000" stroke-width="1.1" fill="none"/>
<circle cx="52.26" cy="835.56" r="2.0" stroke="#ff0000" stroke-width="1.1" fill="none"/>
<circle cx="45.52" cy="837.09" r="2.0" stroke="#ff0000" stroke-width="1.1" fill="none"/>
<circle cx="71.27" cy="803.68" r="2.0" stroke="#0000ff" stroke-width="1.1" fill="none"/>
<circle cx="74.03" cy="801.84" r="2.0" stroke="#0000ff" stroke-width="1.1" fill="none"/>
<circle cx="68.82" cy="813.80" r="2.0" stroke="#0000ff" stroke-width="1.1" fill="none"/>
<circle cx="74.03" cy="812.57" r="2.0" stroke="#0000ff" stroke-width="1.1" fill="none"/>
<circle cx="66.06" cy="815.94" r="2.0" stroke="#0000ff" stroke-width="1.1" fill="none"/>
<circle cx="76.79" cy="816.06" r="2.0" stroke="#0000ff" stroke-width="1.1" fill="none"/>
<circle cx="71.58" cy="815.33" r="2.0" stroke="#0000ff" stroke-width="1.1" fill="none"/>
<circle cx="68.82" cy="817.78" r="2.0" stroke="#0000ff" stroke-width="1.1" fill="none"/>
<circle cx="74.03" cy="818.09" r="2.0" stroke="#0000ff" stroke-width="1.1" fill="none"/>
<circle cx="71.58" cy="820.85" r="2.0" stroke="#0000ff" stroke-width="1.1" fill="none"/>
<circle cx="68.82" cy="826.36" r="2.0" stroke="#0000ff" stroke-width="1.1" fill="none"/>
<circle cx="74.03" cy="826.36" r="2.0" stroke="#0000ff" stroke-width="1.1" fill="none"/>
<circle cx="71.58" cy="831.88" r="2.0" stroke="#0000ff" stroke-width="1.1" fill="none"/>
<text transform="translate(16.20,811.50) rotate(-90)" font-size="9.2" font-weight="bold" text-anchor="middle" textLength="93.40" lengthAdjust="spacingAndGlyphs">hCD3+ in PB (x10<tspan font-size="6" dy="-3.3">5</tspan><tspan dy="3.3">/ml)</tspan></text>
<text transform="translate(54.00,850.50) rotate(-45)" font-size="9.0" font-weight="bold" text-anchor="end">T+SCR</text>
<text transform="translate(75.20,850.50) rotate(-45)" font-size="9.0" font-weight="bold" text-anchor="end">T+M-miR-142</text>
<text x="135.50" y="758.80" font-size="10.3" font-weight="bold" textLength="68.40" lengthAdjust="spacingAndGlyphs" >Non-T hCD45<tspan font-size="6.5" dy="-4">+</tspan></text>
<text x="158.30" y="770.80" font-size="10.3" font-weight="bold" textLength="25.70" lengthAdjust="spacingAndGlyphs" >in PB</text>
<text x="138.40" y="782.20" font-size="8.6" fill="#333" textLength="29.00" lengthAdjust="spacingAndGlyphs" >P=0.02</text>
<line x1="144.10" y1="786.60" x2="162.10" y2="786.60" stroke="#1a1a1a" stroke-width="1.6"/>
<text x="165.50" y="788.80" font-size="8.6" fill="#333" textLength="34.20" lengthAdjust="spacingAndGlyphs" >P=0.007</text>
<line x1="164.00" y1="791.10" x2="196.70" y2="791.10" stroke="#1a1a1a" stroke-width="1.4"/>
<text x="166.90" y="801.70" font-size="8.6" fill="#333" textLength="37.90" lengthAdjust="spacingAndGlyphs" >P=0.0003</text>
<line x1="177.70" y1="806.30" x2="194.40" y2="806.30" stroke="#1a1a1a" stroke-width="1.6"/>
<line x1="134.60" y1="789.18" x2="134.60" y2="840.10" stroke="#1a1a1a" stroke-width="1.2"/>
<line x1="131.80" y1="789.18" x2="134.60" y2="789.18" stroke="#1a1a1a" stroke-width="1.2"/>
<text x="130.80" y="792.18" font-size="8.6" font-weight="bold" text-anchor="end" >40</text>
<line x1="131.80" y1="801.91" x2="134.60" y2="801.91" stroke="#1a1a1a" stroke-width="1.2"/>
<text x="130.80" y="804.91" font-size="8.6" font-weight="bold" text-anchor="end" >30</text>
<line x1="131.80" y1="814.64" x2="134.60" y2="814.64" stroke="#1a1a1a" stroke-width="1.2"/>
<text x="130.80" y="817.64" font-size="8.6" font-weight="bold" text-anchor="end" >20</text>
<line x1="131.80" y1="827.37" x2="134.60" y2="827.37" stroke="#1a1a1a" stroke-width="1.2"/>
<text x="130.80" y="830.37" font-size="8.6" font-weight="bold" text-anchor="end" >10</text>
<line x1="131.80" y1="840.10" x2="134.60" y2="840.10" stroke="#1a1a1a" stroke-width="1.2"/>
<text x="130.80" y="843.10" font-size="8.6" font-weight="bold" text-anchor="end" >0</text>
<rect x="140.30" y="815.10" width="10.50" height="25.00" stroke="#222" stroke-width="1.0" fill="none" stroke-opacity="0.6"/>
<rect x="156.10" y="825.40" width="10.80" height="14.70" stroke="#2aa0b8" stroke-width="1.0" fill="none" stroke-opacity="0.6"/>
<rect x="172.30" y="823.80" width="11.20" height="16.30" stroke="#ff0000" stroke-width="1.0" fill="none" stroke-opacity="0.6"/>
<rect x="188.60" y="835.00" width="10.80" height="5.10" stroke="#0000ff" stroke-width="1.0" fill="none" stroke-opacity="0.6"/>
<line x1="134.60" y1="840.10" x2="205.80" y2="840.10" stroke="#1a1a1a" stroke-width="1.2"/>
<line x1="145.40" y1="840.10" x2="145.40" y2="843.10" stroke="#1a1a1a" stroke-width="1.2"/>
<line x1="161.60" y1="840.10" x2="161.60" y2="843.10" stroke="#1a1a1a" stroke-width="1.2"/>
<line x1="177.70" y1="840.10" x2="177.70" y2="843.10" stroke="#1a1a1a" stroke-width="1.2"/>
<line x1="194.00" y1="840.10" x2="194.00" y2="843.10" stroke="#1a1a1a" stroke-width="1.2"/>
<line x1="145.40" y1="810.82" x2="145.40" y2="819.73" stroke="#222" stroke-width="1"/>
<line x1="143.20" y1="810.82" x2="147.60" y2="810.82" stroke="#222" stroke-width="1"/>
<line x1="143.20" y1="819.73" x2="147.60" y2="819.73" stroke="#222" stroke-width="1"/>
<line x1="161.60" y1="822.28" x2="161.60" y2="829.28" stroke="#2aa0b8" stroke-width="1"/>
<line x1="159.40" y1="822.28" x2="163.80" y2="822.28" stroke="#2aa0b8" stroke-width="1"/>
<line x1="159.40" y1="829.28" x2="163.80" y2="829.28" stroke="#2aa0b8" stroke-width="1"/>
<line x1="177.70" y1="817.82" x2="177.70" y2="824.19" stroke="#ff0000" stroke-width="1"/>
<line x1="175.50" y1="817.82" x2="179.90" y2="817.82" stroke="#ff0000" stroke-width="1"/>
<line x1="175.50" y1="824.19" x2="179.90" y2="824.19" stroke="#ff0000" stroke-width="1"/>
<line x1="194.00" y1="832.46" x2="194.00" y2="835.64" stroke="#0000ff" stroke-width="1"/>
<line x1="191.80" y1="832.46" x2="196.20" y2="832.46" stroke="#0000ff" stroke-width="1"/>
<line x1="191.80" y1="835.64" x2="196.20" y2="835.64" stroke="#0000ff" stroke-width="1"/>
<circle cx="145.20" cy="793.17" r="2.0" stroke="#222" stroke-width="1.1" fill="none"/>
<circle cx="145.20" cy="805.44" r="2.0" stroke="#222" stroke-width="1.1" fill="none"/>
<circle cx="145.20" cy="812.08" r="2.0" stroke="#222" stroke-width="1.1" fill="none"/>
<circle cx="141.62" cy="818.21" r="2.0" stroke="#222" stroke-width="1.1" fill="none"/>
<circle cx="145.20" cy="818.21" r="2.0" stroke="#222" stroke-width="1.1" fill="none"/>
<circle cx="148.77" cy="818.21" r="2.0" stroke="#222" stroke-width="1.1" fill="none"/>
<circle cx="141.62" cy="820.77" r="2.0" stroke="#222" stroke-width="1.1" fill="none"/>
<circle cx="145.20" cy="820.77" r="2.0" stroke="#222" stroke-width="1.1" fill="none"/>
<circle cx="148.77" cy="820.77" r="2.0" stroke="#222" stroke-width="1.1" fill="none"/>
<circle cx="141.62" cy="823.83" r="2.0" stroke="#222" stroke-width="1.1" fill="none"/>
<circle cx="148.77" cy="823.83" r="2.0" stroke="#222" stroke-width="1.1" fill="none"/>
<circle cx="161.55" cy="810.55" r="2.0" stroke="#2aa0b8" stroke-width="1.1" fill="none"/>
<circle cx="161.55" cy="817.70" r="2.0" stroke="#2aa0b8" stroke-width="1.1" fill="none"/>
<circle cx="161.55" cy="823.83" r="2.0" stroke="#2aa0b8" stroke-width="1.1" fill="none"/>
<circle cx="157.97" cy="826.90" r="2.0" stroke="#2aa0b8" stroke-width="1.1" fill="none"/>
<circle cx="161.55" cy="826.90" r="2.0" stroke="#2aa0b8" stroke-width="1.1" fill="none"/>
<circle cx="165.12" cy="826.90" r="2.0" stroke="#2aa0b8" stroke-width="1.1" fill="none"/>
<circle cx="157.97" cy="829.96" r="2.0" stroke="#2aa0b8" stroke-width="1.1" fill="none"/>
<circle cx="161.55" cy="829.96" r="2.0" stroke="#2aa0b8" stroke-width="1.1" fill="none"/>
<circle cx="165.12" cy="829.96" r="2.0" stroke="#2aa0b8" stroke-width="1.1" fill="none"/>
<circle cx="157.97" cy="833.03" r="2.0" stroke="#2aa0b8" stroke-width="1.1" fill="none"/>
<circle cx="162.06" cy="831.49" r="2.0" stroke="#2aa0b8" stroke-width="1.1" fill="none"/>
<circle cx="176.87" cy="809.52" r="2.0" stroke="#ff0000" stroke-width="1.1" fill="none"/>
<circle cx="179.43" cy="812.59" r="2.0" stroke="#ff0000" stroke-width="1.1" fill="none"/>
<circle cx="176.87" cy="815.66" r="2.0" stroke="#ff0000" stroke-width="1.1" fill="none"/>
<circle cx="181.47" cy="818.21" r="2.0" stroke="#ff0000" stroke-width="1.1" fill="none"/>
<circle cx="174.32" cy="820.77" r="2.0" stroke="#ff0000" stroke-width="1.1" fill="none"/>
<circle cx="178.92" cy="821.28" r="2.0" stroke="#ff0000" stroke-width="1.1" fill="none"/>
<circle cx="181.98" cy="823.83" r="2.0" stroke="#ff0000" stroke-width="1.1" fill="none"/>
<circle cx="174.32" cy="826.90" r="2.0" stroke="#ff0000" stroke-width="1.1" fill="none"/>
<circle cx="178.92" cy="826.90" r="2.0" stroke="#ff0000" stroke-width="1.1" fill="none"/>
<circle cx="174.32" cy="829.96" r="2.0" stroke="#ff0000" stroke-width="1.1" fill="none"/>
<circle cx="178.92" cy="829.96" r="2.0" stroke="#ff0000" stroke-width="1.1" fill="none"/>
<circle cx="181.98" cy="832.01" r="2.0" stroke="#ff0000" stroke-width="1.1" fill="none"/>
<circle cx="174.32" cy="835.07" r="2.0" stroke="#ff0000" stroke-width="1.1" fill="none"/>
<circle cx="178.92" cy="834.05" r="2.0" stroke="#ff0000" stroke-width="1.1" fill="none"/>
<circle cx="194.25" cy="828.43" r="2.0" stroke="#0000ff" stroke-width="1.1" fill="none"/>
<circle cx="191.18" cy="833.03" r="2.0" stroke="#0000ff" stroke-width="1.1" fill="none"/>
<circle cx="194.25" cy="833.03" r="2.0" stroke="#0000ff" stroke-width="1.1" fill="none"/>
<circle cx="197.31" cy="833.03" r="2.0" stroke="#0000ff" stroke-width="1.1" fill="none"/>
<circle cx="190.16" cy="836.09" r="2.0" stroke="#0000ff" stroke-width="1.1" fill="none"/>
<circle cx="194.25" cy="836.09" r="2.0" stroke="#0000ff" stroke-width="1.1" fill="none"/>
<circle cx="197.31" cy="836.09" r="2.0" stroke="#0000ff" stroke-width="1.1" fill="none"/>
<circle cx="190.16" cy="838.14" r="2.0" stroke="#0000ff" stroke-width="1.1" fill="none"/>
<circle cx="193.22" cy="838.14" r="2.0" stroke="#0000ff" stroke-width="1.1" fill="none"/>
<circle cx="197.31" cy="838.14" r="2.0" stroke="#0000ff" stroke-width="1.1" fill="none"/>
<circle cx="194.25" cy="839.67" r="2.0" stroke="#0000ff" stroke-width="1.1" fill="none"/>
<text transform="translate(104.30,814.00) rotate(-90)" font-size="9.2" font-weight="bold" text-anchor="middle" textLength="59.80" lengthAdjust="spacingAndGlyphs">Non-T hCD45<tspan font-size="6" dy="-3.3">+</tspan></text>
<text transform="translate(115.30,815.40) rotate(-90)" font-size="9.2" font-weight="bold" text-anchor="middle" textLength="36.00" lengthAdjust="spacingAndGlyphs">in PB (%)</text>
<text transform="translate(148.00,854.00) rotate(-45)" font-size="9.0" font-weight="bold" text-anchor="end">SCR</text>
<text transform="translate(164.20,854.00) rotate(-45)" font-size="9.0" font-weight="bold" text-anchor="end">M-miR-142</text>
<text transform="translate(180.30,854.00) rotate(-45)" font-size="9.0" font-weight="bold" text-anchor="end">T+SCR</text>
<text transform="translate(197.40,854.00) rotate(-45)" font-size="9.0" font-weight="bold" text-anchor="end">T+M-miR-142</text>
<text x="264.40" y="751.50" font-size="10.5" font-weight="bold" textLength="91.90" lengthAdjust="spacingAndGlyphs" >Survival - primary</text>
<line x1="234.70" y1="762.30" x2="243.40" y2="762.30" stroke="#222" stroke-width="1.3"/>
<line x1="239.00" y1="760.50" x2="239.00" y2="762.30" stroke="#222" stroke-width="1"/>
<text x="249.40" y="765.10" font-size="8.8" font-weight="bold" fill="#222" textLength="17.50" lengthAdjust="spacingAndGlyphs" >SCR</text>
<line x1="234.70" y1="772.80" x2="243.40" y2="772.80" stroke="#2aa0b8" stroke-width="1.3"/>
<line x1="239.00" y1="771.00" x2="239.00" y2="772.80" stroke="#2aa0b8" stroke-width="1"/>
<text x="249.40" y="775.60" font-size="8.8" font-weight="bold" fill="#2aa0b8" textLength="43.00" lengthAdjust="spacingAndGlyphs" >M-miR-142</text>
<line x1="234.70" y1="785.00" x2="243.40" y2="785.00" stroke="#ff0000" stroke-width="1.3"/>
<line x1="239.00" y1="783.20" x2="239.00" y2="785.00" stroke="#ff0000" stroke-width="1"/>
<text x="249.40" y="787.80" font-size="8.8" font-weight="bold" fill="#ff0000" textLength="35.50" lengthAdjust="spacingAndGlyphs" >T + SCR</text>
<line x1="234.70" y1="795.50" x2="243.40" y2="795.50" stroke="#0000ff" stroke-width="1.3"/>
<line x1="239.00" y1="793.70" x2="239.00" y2="795.50" stroke="#0000ff" stroke-width="1"/>
<text x="249.40" y="798.30" font-size="8.8" font-weight="bold" fill="#0000ff" textLength="57.80" lengthAdjust="spacingAndGlyphs" >T + M-miR-142</text>
<line x1="298.50" y1="760.20" x2="298.50" y2="776.00" stroke="#1a1a1a" stroke-width="1.2"/>
<text x="301.20" y="771.50" font-size="8.8" fill="#333" textLength="31.50" lengthAdjust="spacingAndGlyphs" >P=0.005</text>
<line x1="309.00" y1="782.50" x2="309.00" y2="798.30" stroke="#1a1a1a" stroke-width="1.2"/>
<text x="311.70" y="793.00" font-size="8.8" fill="#333" textLength="32.30" lengthAdjust="spacingAndGlyphs" >P=0.012</text>
<line x1="346.60" y1="772.00" x2="346.60" y2="798.30" stroke="#1a1a1a" stroke-width="1.2"/>
<text x="349.20" y="787.30" font-size="8.8" fill="#333" textLength="32.00" lengthAdjust="spacingAndGlyphs" >P=0.008</text>
<line x1="244.20" y1="805.50" x2="244.20" y2="861.50" stroke="#1a1a1a" stroke-width="1.2"/>
<line x1="241.20" y1="805.50" x2="244.20" y2="805.50" stroke="#1a1a1a" stroke-width="1.2"/>
<text x="240.20" y="808.50" font-size="8.6" font-weight="bold" text-anchor="end" >100</text>
<line x1="241.20" y1="833.60" x2="244.20" y2="833.60" stroke="#1a1a1a" stroke-width="1.2"/>
<text x="240.20" y="836.60" font-size="8.6" font-weight="bold" text-anchor="end" >50</text>
<line x1="241.20" y1="861.50" x2="244.20" y2="861.50" stroke="#1a1a1a" stroke-width="1.2"/>
<text x="240.20" y="864.50" font-size="8.6" font-weight="bold" text-anchor="end" >0</text>
<line x1="244.20" y1="799.00" x2="244.20" y2="805.50" stroke="#1a1a1a" stroke-width="1.2"/>
<line x1="244.20" y1="861.50" x2="256.80" y2="861.50" stroke="#333" stroke-width="1.2"/>
<line x1="263.90" y1="861.50" x2="376.80" y2="861.50" stroke="#333" stroke-width="1.2"/>
<line x1="244.20" y1="861.50" x2="244.20" y2="864.50" stroke="#1a1a1a" stroke-width="1.2"/>
<line x1="256.80" y1="861.50" x2="256.80" y2="864.50" stroke="#1a1a1a" stroke-width="1.2"/>
<line x1="274.80" y1="861.50" x2="274.80" y2="864.50" stroke="#1a1a1a" stroke-width="1.2"/>
<line x1="297.40" y1="861.50" x2="297.40" y2="864.50" stroke="#1a1a1a" stroke-width="1.2"/>
<line x1="320.20" y1="861.50" x2="320.20" y2="864.50" stroke="#1a1a1a" stroke-width="1.2"/>
<line x1="343.00" y1="861.50" x2="343.00" y2="864.50" stroke="#1a1a1a" stroke-width="1.2"/>
<line x1="365.50" y1="861.50" x2="365.50" y2="864.50" stroke="#1a1a1a" stroke-width="1.2"/>
<line x1="258.00" y1="858.50" x2="258.00" y2="864.00" stroke="#1a1a1a" stroke-width="1.0"/>
<line x1="262.70" y1="858.50" x2="262.70" y2="864.00" stroke="#1a1a1a" stroke-width="1.0"/>
<text x="244.20" y="874.30" font-size="8.6" font-weight="bold" text-anchor="middle" >0</text>
<text x="257.00" y="874.30" font-size="8.6" font-weight="bold" text-anchor="middle" >20</text>
<text x="274.30" y="874.30" font-size="8.6" font-weight="bold" text-anchor="middle" >25</text>
<text x="297.20" y="874.30" font-size="8.6" font-weight="bold" text-anchor="middle" >35</text>
<text x="320.20" y="874.30" font-size="8.6" font-weight="bold" text-anchor="middle" >45</text>
<text x="343.00" y="874.30" font-size="8.6" font-weight="bold" text-anchor="middle" >55</text>
<text x="365.50" y="874.30" font-size="8.6" font-weight="bold" text-anchor="middle" >65</text>
<text x="250.40" y="886.20" font-size="8.6" font-weight="bold" textLength="120.90" lengthAdjust="spacingAndGlyphs" >Days after stopping treatment</text>
<text transform="translate(221.00,829.80) rotate(-90)" font-size="8.6" font-weight="bold" text-anchor="middle" textLength="64.40" lengthAdjust="spacingAndGlyphs">Percent survival</text>
<path d="M263.90,805.50 L270.00,805.50 L270.00,813.70 L276.90,813.70 L276.90,820.90 L279.00,820.90 L279.00,829.20 L283.80,829.20 L283.80,837.70 L285.70,837.70 L285.70,845.80 L292.90,845.80 L292.90,853.80 L294.50,853.80 L294.50,861.50" stroke="#333" stroke-width="1.2" fill="none" stroke-linejoin="miter"/>
<path d="M263.90,805.50 L278.80,805.50 L278.80,813.40 L296.70,813.40 L296.70,821.30 L299.30,821.30 L299.30,830.50 L302.00,830.50 L302.00,837.00 L305.90,837.00 L305.90,845.40 L312.50,845.40 L312.50,853.30 L320.40,853.30 L320.40,861.50" stroke="#2aa0b8" stroke-width="1.2" fill="none" stroke-linejoin="miter"/>
<path d="M263.90,805.50 L304.10,805.50 L304.10,818.10 L306.70,818.10 L306.70,823.90 L333.50,823.90 L333.50,830.50 L338.20,830.50 L338.20,836.30 L365.50,836.30" stroke="#0000ff" stroke-width="1.2" fill="none" stroke-linejoin="miter"/>
<line x1="365.50" y1="834.80" x2="365.50" y2="837.80" stroke="#0000ff" stroke-width="1"/>
<path d="M263.90,805.50 L280.90,805.50 L280.90,812.10 L283.60,812.10 L283.60,818.60 L288.30,818.60 L288.30,830.00 L302.00,830.00 L302.00,837.00 L305.90,837.00 L305.90,843.10 L313.00,843.10 L313.00,855.40 L351.90,855.40 L351.90,861.50" stroke="#ff0000" stroke-width="1.2" fill="none" stroke-linejoin="miter"/>
<line x1="244.20" y1="805.50" x2="257.30" y2="805.50" stroke="#ff0000" stroke-width="1.2"/>
<text x="398.50" y="733.40" font-size="16.5" >l</text>
<text x="460.10" y="733.40" font-size="14" font-weight="bold" textLength="174.60" lengthAdjust="spacingAndGlyphs" >PDX-2: 2<tspan font-size="9" dy="-5">nd</tspan><tspan dy="5"> transplantation</tspan></text>
<line x1="424.50" y1="740.00" x2="676.10" y2="740.00" stroke="#ff0000" stroke-width="2.0"/>
<text x="425.10" y="762.80" font-size="10.3" font-weight="bold" textLength="69.00" lengthAdjust="spacingAndGlyphs" >hCD45+ in PB</text>
<text x="425.10" y="774.70" font-size="8.6" fill="#333" textLength="30.50" lengthAdjust="spacingAndGlyphs" >P=0.057</text>
<line x1="437.00" y1="777.70" x2="451.90" y2="777.70" stroke="#1a1a1a" stroke-width="1.4"/>
<text x="455.60" y="777.70" font-size="8.6" fill="#333" textLength="35.50" lengthAdjust="spacingAndGlyphs" >P=0.0001</text>
<line x1="453.90" y1="780.40" x2="484.70" y2="780.40" stroke="#1a1a1a" stroke-width="1.4"/>
<text x="459.40" y="789.10" font-size="8.6" fill="#333" textLength="31.00" lengthAdjust="spacingAndGlyphs" >P=0.037</text>
<line x1="464.30" y1="790.80" x2="482.90" y2="790.80" stroke="#1a1a1a" stroke-width="1.4"/>
<line x1="424.50" y1="780.10" x2="424.50" y2="843.10" stroke="#1a1a1a" stroke-width="1.2"/>
<line x1="421.70" y1="780.10" x2="424.50" y2="780.10" stroke="#1a1a1a" stroke-width="1.2"/>
<text x="420.70" y="783.10" font-size="8.6" font-weight="bold" text-anchor="end" >15</text>
<line x1="421.70" y1="801.10" x2="424.50" y2="801.10" stroke="#1a1a1a" stroke-width="1.2"/>
<text x="420.70" y="804.10" font-size="8.6" font-weight="bold" text-anchor="end" >10</text>
<line x1="421.70" y1="822.10" x2="424.50" y2="822.10" stroke="#1a1a1a" stroke-width="1.2"/>
<text x="420.70" y="825.10" font-size="8.6" font-weight="bold" text-anchor="end" >5</text>
<line x1="421.70" y1="843.10" x2="424.50" y2="843.10" stroke="#1a1a1a" stroke-width="1.2"/>
<text x="420.70" y="846.10" font-size="8.6" font-weight="bold" text-anchor="end" >0</text>
<rect x="430.10" y="802.10" width="11.00" height="41.00" stroke="#222" stroke-width="1.0" fill="none" stroke-opacity="0.6"/>
<rect x="446.20" y="812.60" width="10.40" height="30.50" stroke="#2aa0b8" stroke-width="1.0" fill="none" stroke-opacity="0.6"/>
<rect x="461.90" y="823.80" width="10.80" height="19.30" stroke="#ff0000" stroke-width="1.0" fill="none" stroke-opacity="0.6"/>
<rect x="477.50" y="835.00" width="10.50" height="8.10" stroke="#0000ff" stroke-width="1.0" fill="none" stroke-opacity="0.6"/>
<line x1="424.50" y1="843.10" x2="493.60" y2="843.10" stroke="#1a1a1a" stroke-width="1.2"/>
<line x1="435.80" y1="843.10" x2="435.80" y2="846.10" stroke="#1a1a1a" stroke-width="1.2"/>
<line x1="451.30" y1="843.10" x2="451.30" y2="846.10" stroke="#1a1a1a" stroke-width="1.2"/>
<line x1="467.10" y1="843.10" x2="467.10" y2="846.10" stroke="#1a1a1a" stroke-width="1.2"/>
<line x1="482.80" y1="843.10" x2="482.80" y2="846.10" stroke="#1a1a1a" stroke-width="1.2"/>
<line x1="435.80" y1="799.84" x2="435.80" y2="806.14" stroke="#222" stroke-width="1"/>
<line x1="433.60" y1="799.84" x2="438.00" y2="799.84" stroke="#222" stroke-width="1"/>
<line x1="433.60" y1="806.14" x2="438.00" y2="806.14" stroke="#222" stroke-width="1"/>
<line x1="451.30" y1="807.82" x2="451.30" y2="816.22" stroke="#2aa0b8" stroke-width="1"/>
<line x1="449.10" y1="807.82" x2="453.50" y2="807.82" stroke="#2aa0b8" stroke-width="1"/>
<line x1="449.10" y1="816.22" x2="453.50" y2="816.22" stroke="#2aa0b8" stroke-width="1"/>
<line x1="467.10" y1="817.90" x2="467.10" y2="829.66" stroke="#ff0000" stroke-width="1"/>
<line x1="464.90" y1="817.90" x2="469.30" y2="817.90" stroke="#ff0000" stroke-width="1"/>
<line x1="464.90" y1="829.66" x2="469.30" y2="829.66" stroke="#ff0000" stroke-width="1"/>
<line x1="482.80" y1="833.44" x2="482.80" y2="836.80" stroke="#0000ff" stroke-width="1"/>
<line x1="480.60" y1="833.44" x2="485.00" y2="833.44" stroke="#0000ff" stroke-width="1"/>
<line x1="480.60" y1="836.80" x2="485.00" y2="836.80" stroke="#0000ff" stroke-width="1"/>
<circle cx="436.09" cy="784.77" r="2.0" stroke="#222" stroke-width="1.1" fill="none"/>
<circle cx="439.46" cy="795.69" r="2.0" stroke="#222" stroke-width="1.1" fill="none"/>
<circle cx="435.77" cy="798.91" r="2.0" stroke="#222" stroke-width="1.1" fill="none"/>
<circle cx="438.18" cy="800.19" r="2.0" stroke="#222" stroke-width="1.1" fill="none"/>
<circle cx="432.56" cy="803.72" r="2.0" stroke="#222" stroke-width="1.1" fill="none"/>
<circle cx="436.57" cy="803.72" r="2.0" stroke="#222" stroke-width="1.1" fill="none"/>
<circle cx="439.78" cy="804.53" r="2.0" stroke="#222" stroke-width="1.1" fill="none"/>
<circle cx="431.43" cy="807.26" r="2.0" stroke="#222" stroke-width="1.1" fill="none"/>
<circle cx="434.97" cy="807.26" r="2.0" stroke="#222" stroke-width="1.1" fill="none"/>
<circle cx="438.18" cy="806.61" r="2.0" stroke="#222" stroke-width="1.1" fill="none"/>
<circle cx="432.07" cy="811.43" r="2.0" stroke="#222" stroke-width="1.1" fill="none"/>
<circle cx="435.77" cy="810.15" r="2.0" stroke="#222" stroke-width="1.1" fill="none"/>
<circle cx="439.46" cy="810.47" r="2.0" stroke="#222" stroke-width="1.1" fill="none"/>
<circle cx="447.81" cy="799.71" r="2.0" stroke="#2aa0b8" stroke-width="1.1" fill="none"/>
<circle cx="451.83" cy="800.51" r="2.0" stroke="#2aa0b8" stroke-width="1.1" fill="none"/>
<circle cx="455.04" cy="798.10" r="2.0" stroke="#2aa0b8" stroke-width="1.1" fill="none"/>
<circle cx="451.35" cy="806.94" r="2.0" stroke="#2aa0b8" stroke-width="1.1" fill="none"/>
<circle cx="447.81" cy="815.77" r="2.0" stroke="#2aa0b8" stroke-width="1.1" fill="none"/>
<circle cx="451.35" cy="817.86" r="2.0" stroke="#2aa0b8" stroke-width="1.1" fill="none"/>
<circle cx="455.04" cy="818.50" r="2.0" stroke="#2aa0b8" stroke-width="1.1" fill="none"/>
<circle cx="448.13" cy="825.40" r="2.0" stroke="#2aa0b8" stroke-width="1.1" fill="none"/>
<circle cx="455.04" cy="824.60" r="2.0" stroke="#2aa0b8" stroke-width="1.1" fill="none"/>
<circle cx="451.35" cy="821.07" r="2.0" stroke="#2aa0b8" stroke-width="1.1" fill="none"/>
<circle cx="467.08" cy="794.09" r="2.0" stroke="#ff0000" stroke-width="1.1" fill="none"/>
<circle cx="467.08" cy="800.51" r="2.0" stroke="#ff0000" stroke-width="1.1" fill="none"/>
<circle cx="467.08" cy="813.04" r="2.0" stroke="#ff0000" stroke-width="1.1" fill="none"/>
<circle cx="467.08" cy="818.98" r="2.0" stroke="#ff0000" stroke-width="1.1" fill="none"/>
<circle cx="463.87" cy="833.43" r="2.0" stroke="#ff0000" stroke-width="1.1" fill="none"/>
<circle cx="467.08" cy="834.24" r="2.0" stroke="#ff0000" stroke-width="1.1" fill="none"/>
<circle cx="470.30" cy="832.95" r="2.0" stroke="#ff0000" stroke-width="1.1" fill="none"/>
<circle cx="463.87" cy="836.65" r="2.0" stroke="#ff0000" stroke-width="1.1" fill="none"/>
<circle cx="467.08" cy="836.65" r="2.0" stroke="#ff0000" stroke-width="1.1" fill="none"/>
<circle cx="470.30" cy="836.65" r="2.0" stroke="#ff0000" stroke-width="1.1" fill="none"/>
<circle cx="483.95" cy="827.01" r="2.0" stroke="#0000ff" stroke-width="1.1" fill="none"/>
<circle cx="482.34" cy="830.22" r="2.0" stroke="#0000ff" stroke-width="1.1" fill="none"/>
<circle cx="479.13" cy="834.24" r="2.0" stroke="#0000ff" stroke-width="1.1" fill="none"/>
<circle cx="481.54" cy="835.84" r="2.0" stroke="#0000ff" stroke-width="1.1" fill="none"/>
<circle cx="484.75" cy="836.65" r="2.0" stroke="#0000ff" stroke-width="1.1" fill="none"/>
<circle cx="479.13" cy="839.05" r="2.0" stroke="#0000ff" stroke-width="1.1" fill="none"/>
<circle cx="482.34" cy="840.66" r="2.0" stroke="#0000ff" stroke-width="1.1" fill="none"/>
<circle cx="486.03" cy="839.05" r="2.0" stroke="#0000ff" stroke-width="1.1" fill="none"/>
<circle cx="486.35" cy="837.45" r="2.0" stroke="#0000ff" stroke-width="1.1" fill="none"/>
<text transform="translate(407.80,811.00) rotate(-90)" font-size="9.2" font-weight="bold" text-anchor="middle" textLength="69.10" lengthAdjust="spacingAndGlyphs">hCD45<tspan font-size="6" dy="-3.3">+</tspan><tspan dy="3.3"> in PB (%)</tspan></text>
<text transform="translate(438.30,853.60) rotate(-45)" font-size="8.2" font-weight="bold" text-anchor="end">SCR</text>
<text transform="translate(454.00,853.60) rotate(-45)" font-size="8.2" font-weight="bold" text-anchor="end">M-miR-142</text>
<text transform="translate(469.60,853.60) rotate(-45)" font-size="8.2" font-weight="bold" text-anchor="end">T+SCR</text>
<text transform="translate(485.60,853.60) rotate(-45)" font-size="8.2" font-weight="bold" text-anchor="end">T+M-miR-142</text>
<text x="576.80" y="751.30" font-size="10.5" font-weight="bold" textLength="65.90" lengthAdjust="spacingAndGlyphs" >Survival-2nd</text>
<line x1="543.60" y1="761.50" x2="552.60" y2="761.50" stroke="#222" stroke-width="1.3"/>
<line x1="548.10" y1="759.70" x2="548.10" y2="761.50" stroke="#222" stroke-width="1"/>
<text x="558.30" y="764.80" font-size="8.8" font-weight="bold" fill="#222" textLength="18.00" lengthAdjust="spacingAndGlyphs" >SCR</text>
<line x1="543.60" y1="771.70" x2="552.60" y2="771.70" stroke="#2aa0b8" stroke-width="1.3"/>
<line x1="548.10" y1="769.90" x2="548.10" y2="771.70" stroke="#2aa0b8" stroke-width="1"/>
<text x="558.30" y="775.00" font-size="8.8" font-weight="bold" fill="#2aa0b8" textLength="44.00" lengthAdjust="spacingAndGlyphs" >M-miR-142</text>
<line x1="543.60" y1="782.50" x2="552.60" y2="782.50" stroke="#ff0000" stroke-width="1.3"/>
<line x1="548.10" y1="780.70" x2="548.10" y2="782.50" stroke="#ff0000" stroke-width="1"/>
<text x="558.30" y="785.80" font-size="8.8" font-weight="bold" fill="#ff0000" textLength="29.00" lengthAdjust="spacingAndGlyphs" >T+SCR</text>
<line x1="543.60" y1="793.20" x2="552.60" y2="793.20" stroke="#0000ff" stroke-width="1.3"/>
<line x1="548.10" y1="791.40" x2="548.10" y2="793.20" stroke="#0000ff" stroke-width="1"/>
<text x="558.30" y="796.50" font-size="8.8" font-weight="bold" fill="#0000ff" textLength="54.30" lengthAdjust="spacingAndGlyphs" >T+M-miR-142</text>
<line x1="612.60" y1="758.10" x2="612.60" y2="774.00" stroke="#1a1a1a" stroke-width="1.2"/>
<text x="615.50" y="769.00" font-size="8.8" fill="#333" textLength="31.70" lengthAdjust="spacingAndGlyphs" >P&lt;0.001</text>
<line x1="614.90" y1="780.70" x2="614.90" y2="796.10" stroke="#1a1a1a" stroke-width="1.2"/>
<text x="617.80" y="790.90" font-size="8.8" fill="#333" textLength="31.00" lengthAdjust="spacingAndGlyphs" >P&lt;0.001</text>
<line x1="651.10" y1="771.20" x2="651.10" y2="796.10" stroke="#1a1a1a" stroke-width="1.2"/>
<text x="653.30" y="785.30" font-size="8.8" fill="#333" textLength="31.70" lengthAdjust="spacingAndGlyphs" >P&lt;0.001</text>
<line x1="542.40" y1="801.30" x2="542.40" y2="868.90" stroke="#1a1a1a" stroke-width="1.2"/>
<line x1="539.40" y1="801.30" x2="542.40" y2="801.30" stroke="#1a1a1a" stroke-width="1.2"/>
<text x="538.40" y="804.30" font-size="8.6" font-weight="bold" text-anchor="end" >100</text>
<line x1="539.40" y1="834.60" x2="542.40" y2="834.60" stroke="#1a1a1a" stroke-width="1.2"/>
<text x="538.40" y="837.60" font-size="8.6" font-weight="bold" text-anchor="end" >50</text>
<line x1="539.40" y1="868.90" x2="542.40" y2="868.90" stroke="#1a1a1a" stroke-width="1.2"/>
<text x="538.40" y="871.90" font-size="8.6" font-weight="bold" text-anchor="end" >0</text>
<line x1="542.40" y1="794.50" x2="542.40" y2="801.30" stroke="#1a1a1a" stroke-width="1.2"/>
<line x1="542.40" y1="868.90" x2="567.50" y2="868.90" stroke="#333" stroke-width="1.2"/>
<line x1="574.30" y1="868.90" x2="676.90" y2="868.90" stroke="#333" stroke-width="1.2"/>
<line x1="542.40" y1="868.90" x2="542.40" y2="871.90" stroke="#1a1a1a" stroke-width="1.2"/>
<line x1="554.80" y1="868.90" x2="554.80" y2="871.90" stroke="#1a1a1a" stroke-width="1.2"/>
<line x1="567.50" y1="868.90" x2="567.50" y2="871.90" stroke="#1a1a1a" stroke-width="1.2"/>
<line x1="599.90" y1="868.90" x2="599.90" y2="871.90" stroke="#1a1a1a" stroke-width="1.2"/>
<line x1="624.80" y1="868.90" x2="624.80" y2="871.90" stroke="#1a1a1a" stroke-width="1.2"/>
<line x1="651.80" y1="868.90" x2="651.80" y2="871.90" stroke="#1a1a1a" stroke-width="1.2"/>
<line x1="676.90" y1="868.90" x2="676.90" y2="871.90" stroke="#1a1a1a" stroke-width="1.2"/>
<line x1="574.30" y1="866.00" x2="574.30" y2="871.90" stroke="#1a1a1a" stroke-width="1.0"/>
<text x="542.40" y="880.50" font-size="8.6" font-weight="bold" text-anchor="middle" >0</text>
<text x="554.80" y="880.50" font-size="8.6" font-weight="bold" text-anchor="middle" >20</text>
<text x="567.50" y="880.50" font-size="8.6" font-weight="bold" text-anchor="middle" >40</text>
<text x="599.90" y="880.50" font-size="8.6" font-weight="bold" text-anchor="middle" >50</text>
<text x="624.80" y="880.50" font-size="8.6" font-weight="bold" text-anchor="middle" >60</text>
<text x="651.80" y="880.50" font-size="8.6" font-weight="bold" text-anchor="middle" >70</text>
<text x="676.90" y="880.50" font-size="8.6" font-weight="bold" text-anchor="middle" >80</text>
<text x="556.20" y="894.00" font-size="8.6" font-weight="bold" textLength="107.20" lengthAdjust="spacingAndGlyphs" >Days after transplantation</text>
<text transform="translate(518.80,830.50) rotate(-90)" font-size="8.6" font-weight="bold" text-anchor="middle" textLength="65.90" lengthAdjust="spacingAndGlyphs">Percent survival</text>
<line x1="542.40" y1="801.30" x2="567.50" y2="801.30" stroke="#ff0000" stroke-width="1.2"/>
<path d="M574.30,801.30 L597.20,801.30 L597.20,825.60 L599.90,825.60 L599.90,850.80 L602.60,850.80 L602.60,860.80 L605.30,860.80 L605.30,868.90" stroke="#222" stroke-width="1.2" fill="none" stroke-linejoin="miter"/>
<path d="M574.30,801.30 L602.10,801.30 L602.10,817.80 L610.20,817.80 L610.20,826.50 L612.90,826.50 L612.90,842.70 L618.30,842.70 L618.30,851.60 L623.70,851.60 L623.70,868.90" stroke="#2aa0b8" stroke-width="1.2" fill="none" stroke-linejoin="miter"/>
<path d="M574.30,801.30 L643.10,801.30 L643.10,808.40 L646.40,808.40 L646.40,823.80 L651.80,823.80 L651.80,831.00 L659.30,831.00 L659.30,838.60 L664.20,838.60 L664.20,854.00 L666.90,854.00 L666.90,868.90" stroke="#0000ff" stroke-width="1.2" fill="none" stroke-linejoin="miter"/>
<path d="M574.30,801.30 L605.60,801.30 L605.60,816.40 L607.90,816.40 L607.90,838.70 L623.50,838.70 L623.50,845.90 L628.40,845.90 L628.40,861.10 L631.10,861.10 L631.10,868.90" stroke="#ff0000" stroke-width="1.2" fill="none" stroke-linejoin="miter"/>
</svg>
</body></html>
